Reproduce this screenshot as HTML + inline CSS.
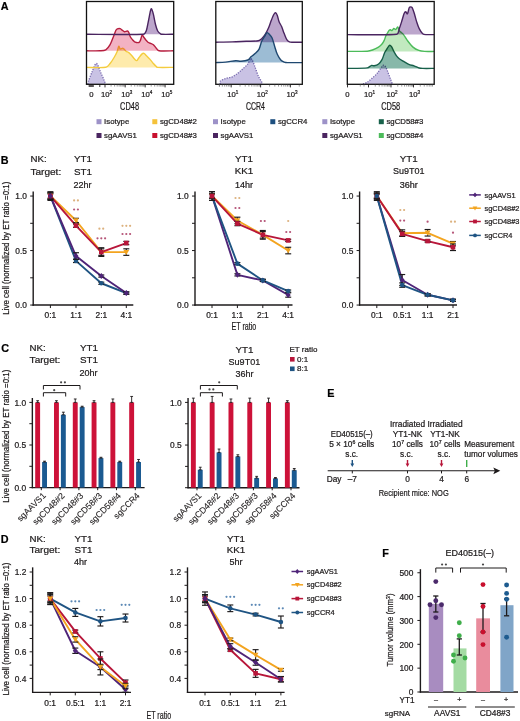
<!DOCTYPE html><html><head><meta charset="utf-8"><style>html,body{margin:0;padding:0;background:#fff;}svg{display:block;}</style></head><body>
<svg width="520" height="721" viewBox="0 0 520 721" font-family='"Liberation Sans", sans-serif'>
<style>text{stroke:#1d1a1b;stroke-width:0.22px;paint-order:stroke;}</style>
<rect width="520" height="721" fill="#fff"/>
<text x="0.80" y="10.20" font-size="10.8" text-anchor="start" fill="#000" font-weight="bold" >A</text>
<text x="0.80" y="164.30" font-size="10.8" text-anchor="start" fill="#000" font-weight="bold" >B</text>
<text x="1.20" y="352.20" font-size="10.8" text-anchor="start" fill="#000" font-weight="bold" >C</text>
<text x="0.80" y="542.60" font-size="10.8" text-anchor="start" fill="#000" font-weight="bold" >D</text>
<text x="327.30" y="397.00" font-size="10.8" text-anchor="start" fill="#000" font-weight="bold" >E</text>
<text x="382.20" y="556.60" font-size="10.8" text-anchor="start" fill="#000" font-weight="bold" >F</text>
<path d="M87.80,84.00 C87.92,83.53 88.18,82.11 88.50,81.20 C89.20,79.20 90.70,74.95 92.00,72.00 C93.28,69.09 94.88,63.50 96.30,63.50 C97.72,63.50 99.22,69.25 100.50,72.00 C101.73,74.64 103.17,78.00 104.00,80.00 C104.55,81.31 105.25,83.33 105.50,84.00 L105.50,84.00 L87.80,84.00 Z" fill="#c2b9e0" fill-opacity="0.88" stroke="none" style="mix-blend-mode:multiply"/>
<path d="M87.80,84.00 C87.92,83.53 88.18,82.11 88.50,81.20 C89.20,79.20 90.70,74.95 92.00,72.00 C93.28,69.09 94.88,63.50 96.30,63.50 C97.72,63.50 99.22,69.25 100.50,72.00 C101.73,74.64 103.17,78.00 104.00,80.00 C104.55,81.31 105.25,83.33 105.50,84.00" fill="none" stroke="#7567ad" stroke-width="1.3" stroke-dasharray="1.2,1.3" stroke-linejoin="round"/>
<path d="M86.50,67.40 C89.72,67.38 101.87,67.95 105.80,67.30 C107.69,66.99 108.87,64.97 110.10,63.50 C111.53,61.78 113.20,59.05 114.40,57.00 C115.49,55.13 116.57,53.00 117.30,51.20 C117.96,49.59 118.32,46.57 118.80,46.20 C119.28,45.83 119.48,48.65 120.20,49.00 C120.92,49.35 122.17,47.95 123.10,48.30 C124.07,48.67 125.05,50.48 126.00,51.20 C126.83,51.83 127.97,51.97 128.80,52.60 C129.75,53.32 130.79,54.48 131.70,55.50 C132.67,56.58 133.75,58.25 134.60,59.10 C135.23,59.73 136.08,60.83 136.80,60.60 C137.52,60.37 138.17,58.65 138.90,57.70 C139.73,56.62 140.95,54.82 141.80,54.10 C142.39,53.60 143.27,53.17 144.00,53.40 C144.73,53.63 145.48,54.79 146.20,55.50 C147.17,56.45 148.66,57.84 149.80,59.10 C151.00,60.43 152.32,62.25 153.40,63.50 C154.33,64.57 155.58,65.95 156.30,66.60 C156.70,66.96 157.16,67.38 157.70,67.40 C160.60,67.53 171.03,67.40 173.70,67.40 L173.70,67.40 L86.50,67.40 Z" fill="#fde38c" fill-opacity="0.72" stroke="none" style="mix-blend-mode:multiply"/>
<path d="M86.50,67.40 C89.72,67.38 101.87,67.95 105.80,67.30 C107.69,66.99 108.87,64.97 110.10,63.50 C111.53,61.78 113.20,59.05 114.40,57.00 C115.49,55.13 116.57,53.00 117.30,51.20 C117.96,49.59 118.32,46.57 118.80,46.20 C119.28,45.83 119.48,48.65 120.20,49.00 C120.92,49.35 122.17,47.95 123.10,48.30 C124.07,48.67 125.05,50.48 126.00,51.20 C126.83,51.83 127.97,51.97 128.80,52.60 C129.75,53.32 130.79,54.48 131.70,55.50 C132.67,56.58 133.75,58.25 134.60,59.10 C135.23,59.73 136.08,60.83 136.80,60.60 C137.52,60.37 138.17,58.65 138.90,57.70 C139.73,56.62 140.95,54.82 141.80,54.10 C142.39,53.60 143.27,53.17 144.00,53.40 C144.73,53.63 145.48,54.79 146.20,55.50 C147.17,56.45 148.66,57.84 149.80,59.10 C151.00,60.43 152.32,62.25 153.40,63.50 C154.33,64.57 155.58,65.95 156.30,66.60 C156.70,66.96 157.16,67.38 157.70,67.40 C160.60,67.53 171.03,67.40 173.70,67.40" fill="none" stroke="#f4cc3e" stroke-width="1.4"  stroke-linejoin="round"/>
<path d="M86.50,50.80 C88.75,50.80 96.78,50.97 100.00,50.80 C101.96,50.70 104.12,50.81 105.80,49.80 C107.48,48.78 109.00,46.63 110.10,44.70 C111.42,42.40 112.73,38.40 113.70,36.00 C114.46,34.11 115.30,31.50 115.90,30.30 C116.21,29.69 116.66,29.05 117.30,28.80 C118.02,28.52 119.35,28.35 120.20,28.60 C121.05,28.85 121.68,29.78 122.40,30.30 C123.08,30.79 123.67,31.58 124.50,31.70 C125.33,31.82 126.68,30.87 127.40,31.00 C128.07,31.13 128.49,31.89 128.80,32.50 C129.28,33.47 129.68,35.60 130.30,36.80 C130.85,37.88 131.78,38.87 132.50,39.70 C133.15,40.45 133.69,41.40 134.60,41.80 C135.67,42.27 137.93,42.73 138.90,42.50 C139.74,42.30 140.05,41.19 140.40,40.40 C140.93,39.20 141.50,35.78 142.10,35.30 C142.70,34.82 143.39,36.74 144.00,37.50 C144.68,38.35 145.48,39.57 146.20,40.40 C146.85,41.15 147.58,42.02 148.30,42.50 C148.95,42.94 149.78,42.99 150.50,43.30 C151.35,43.67 152.59,44.00 153.40,44.70 C154.37,45.53 155.35,47.28 156.30,48.30 C157.15,49.21 157.86,50.62 159.10,50.80 C162.00,51.22 171.27,50.80 173.70,50.80 L173.70,50.80 L86.50,50.80 Z" fill="#ee8ea6" fill-opacity="0.68" stroke="none" style="mix-blend-mode:multiply"/>
<path d="M86.50,50.80 C88.75,50.80 96.78,50.97 100.00,50.80 C101.96,50.70 104.12,50.81 105.80,49.80 C107.48,48.78 109.00,46.63 110.10,44.70 C111.42,42.40 112.73,38.40 113.70,36.00 C114.46,34.11 115.30,31.50 115.90,30.30 C116.21,29.69 116.66,29.05 117.30,28.80 C118.02,28.52 119.35,28.35 120.20,28.60 C121.05,28.85 121.68,29.78 122.40,30.30 C123.08,30.79 123.67,31.58 124.50,31.70 C125.33,31.82 126.68,30.87 127.40,31.00 C128.07,31.13 128.49,31.89 128.80,32.50 C129.28,33.47 129.68,35.60 130.30,36.80 C130.85,37.88 131.78,38.87 132.50,39.70 C133.15,40.45 133.69,41.40 134.60,41.80 C135.67,42.27 137.93,42.73 138.90,42.50 C139.74,42.30 140.05,41.19 140.40,40.40 C140.93,39.20 141.50,35.78 142.10,35.30 C142.70,34.82 143.39,36.74 144.00,37.50 C144.68,38.35 145.48,39.57 146.20,40.40 C146.85,41.15 147.58,42.02 148.30,42.50 C148.95,42.94 149.78,42.99 150.50,43.30 C151.35,43.67 152.59,44.00 153.40,44.70 C154.37,45.53 155.35,47.28 156.30,48.30 C157.15,49.21 157.86,50.62 159.10,50.80 C162.00,51.22 171.27,50.80 173.70,50.80" fill="none" stroke="#b51d3e" stroke-width="1.4"  stroke-linejoin="round"/>
<path d="M86.50,34.30 C95.97,34.30 133.35,34.85 143.30,34.30 C144.76,34.22 145.66,32.36 146.20,31.00 C147.03,28.88 147.63,24.74 148.30,21.60 C149.02,18.23 149.95,12.92 150.50,10.80 C150.68,10.09 151.14,8.33 151.60,8.90 C152.08,9.50 152.93,12.53 153.40,14.40 C154.05,17.00 154.78,21.73 155.50,24.50 C156.07,26.71 156.85,29.43 157.70,31.00 C158.35,32.20 159.88,33.35 160.60,33.90 C160.99,34.20 161.51,34.29 162.00,34.30 C164.18,34.37 171.75,34.30 173.70,34.30 L173.70,34.30 L86.50,34.30 Z" fill="#ab90bf" fill-opacity="0.8" stroke="none" style="mix-blend-mode:multiply"/>
<path d="M86.50,34.30 C95.97,34.30 133.35,34.85 143.30,34.30 C144.76,34.22 145.66,32.36 146.20,31.00 C147.03,28.88 147.63,24.74 148.30,21.60 C149.02,18.23 149.95,12.92 150.50,10.80 C150.68,10.09 151.14,8.33 151.60,8.90 C152.08,9.50 152.93,12.53 153.40,14.40 C154.05,17.00 154.78,21.73 155.50,24.50 C156.07,26.71 156.85,29.43 157.70,31.00 C158.35,32.20 159.88,33.35 160.60,33.90 C160.99,34.20 161.51,34.29 162.00,34.30 C164.18,34.37 171.75,34.30 173.70,34.30" fill="none" stroke="#4a2560" stroke-width="1.4"  stroke-linejoin="round"/>
<rect x="86.5" y="1.5" width="87.19999999999999" height="82.8" fill="none" stroke="#111" stroke-width="1.3"/>
<path d="M220.20,84.00 C220.20,83.53 219.55,81.87 220.20,81.20 C221.07,80.30 223.58,79.26 225.40,78.60 C227.42,77.87 230.28,77.67 232.30,76.80 C234.20,75.98 235.84,74.64 237.50,73.40 C239.23,72.10 241.03,70.54 242.70,69.00 C244.43,67.40 246.60,65.52 247.90,63.80 C249.05,62.28 249.78,59.33 250.50,58.70 C251.03,58.23 251.85,59.38 252.20,60.00 C252.92,61.28 253.98,64.25 254.80,66.40 C255.82,69.07 257.15,73.40 258.30,76.00 C259.23,78.10 261.08,80.67 261.70,82.00 C261.98,82.61 261.95,83.67 262.00,84.00 L262.00,84.00 L220.20,84.00 Z" fill="#c2b9e0" fill-opacity="0.88" stroke="none" style="mix-blend-mode:multiply"/>
<path d="M220.20,84.00 C220.20,83.53 219.55,81.87 220.20,81.20 C221.07,80.30 223.58,79.26 225.40,78.60 C227.42,77.87 230.28,77.67 232.30,76.80 C234.20,75.98 235.84,74.64 237.50,73.40 C239.23,72.10 241.03,70.54 242.70,69.00 C244.43,67.40 246.60,65.52 247.90,63.80 C249.05,62.28 249.78,59.33 250.50,58.70 C251.03,58.23 251.85,59.38 252.20,60.00 C252.92,61.28 253.98,64.25 254.80,66.40 C255.82,69.07 257.15,73.40 258.30,76.00 C259.23,78.10 261.08,80.67 261.70,82.00 C261.98,82.61 261.95,83.67 262.00,84.00" fill="none" stroke="#7567ad" stroke-width="1.3" stroke-dasharray="1.2,1.3" stroke-linejoin="round"/>
<path d="M215.80,42.20 C218.55,42.15 227.23,42.05 232.30,41.90 C236.94,41.76 241.87,41.48 246.20,41.30 C250.23,41.13 255.72,41.23 258.30,40.80 C259.61,40.58 260.72,39.61 261.70,38.70 C262.85,37.63 264.22,35.97 265.20,34.40 C266.37,32.53 267.70,29.80 268.70,27.50 C269.68,25.26 270.35,22.77 271.20,20.60 C272.01,18.54 273.07,15.80 273.80,14.50 C274.21,13.78 275.02,12.65 275.60,12.80 C276.18,12.95 276.92,14.44 277.30,15.40 C277.87,16.83 278.28,19.53 279.00,21.40 C279.69,23.21 280.84,24.82 281.60,26.60 C282.47,28.63 283.33,31.43 284.20,33.60 C285.01,35.62 285.93,38.22 286.80,39.60 C287.41,40.58 288.38,41.47 289.40,41.90 C290.42,42.33 291.73,42.17 292.90,42.20 C295.05,42.25 300.73,42.20 302.30,42.20 L302.30,42.20 L215.80,42.20 Z" fill="#ab90bf" fill-opacity="0.8" stroke="none" style="mix-blend-mode:multiply"/>
<path d="M215.80,42.20 C218.55,42.15 227.23,42.05 232.30,41.90 C236.94,41.76 241.87,41.48 246.20,41.30 C250.23,41.13 255.72,41.23 258.30,40.80 C259.61,40.58 260.72,39.61 261.70,38.70 C262.85,37.63 264.22,35.97 265.20,34.40 C266.37,32.53 267.70,29.80 268.70,27.50 C269.68,25.26 270.35,22.77 271.20,20.60 C272.01,18.54 273.07,15.80 273.80,14.50 C274.21,13.78 275.02,12.65 275.60,12.80 C276.18,12.95 276.92,14.44 277.30,15.40 C277.87,16.83 278.28,19.53 279.00,21.40 C279.69,23.21 280.84,24.82 281.60,26.60 C282.47,28.63 283.33,31.43 284.20,33.60 C285.01,35.62 285.93,38.22 286.80,39.60 C287.41,40.58 288.38,41.47 289.40,41.90 C290.42,42.33 291.73,42.17 292.90,42.20 C295.05,42.25 300.73,42.20 302.30,42.20" fill="none" stroke="#4a2560" stroke-width="1.4"  stroke-linejoin="round"/>
<path d="M215.80,62.60 C217.40,62.52 222.21,62.40 225.40,62.10 C228.73,61.78 233.20,60.85 235.80,60.70 C237.54,60.60 239.26,61.30 241.00,61.20 C243.02,61.08 246.18,60.77 247.90,60.00 C249.36,59.35 250.10,57.66 251.30,56.60 C252.60,55.45 254.40,54.35 255.70,53.10 C256.96,51.89 258.31,50.66 259.10,49.10 C260.10,47.13 260.83,43.32 261.70,41.30 C262.36,39.76 263.43,38.43 264.30,37.00 C265.17,35.57 266.03,33.13 266.90,32.70 C267.77,32.27 268.77,33.67 269.50,34.40 C270.37,35.27 271.53,36.56 272.10,37.90 C272.97,39.92 273.83,43.77 274.70,46.50 C275.53,49.11 276.28,52.05 277.30,54.30 C278.22,56.33 279.65,58.70 280.80,60.00 C281.68,61.00 283.05,61.67 284.20,62.10 C285.30,62.52 286.52,62.57 287.70,62.60 C290.72,62.68 299.87,62.60 302.30,62.60 L302.30,62.60 L215.80,62.60 Z" fill="#7ba6c6" fill-opacity="0.75" stroke="none" style="mix-blend-mode:multiply"/>
<path d="M215.80,62.60 C217.40,62.52 222.21,62.40 225.40,62.10 C228.73,61.78 233.20,60.85 235.80,60.70 C237.54,60.60 239.26,61.30 241.00,61.20 C243.02,61.08 246.18,60.77 247.90,60.00 C249.36,59.35 250.10,57.66 251.30,56.60 C252.60,55.45 254.40,54.35 255.70,53.10 C256.96,51.89 258.31,50.66 259.10,49.10 C260.10,47.13 260.83,43.32 261.70,41.30 C262.36,39.76 263.43,38.43 264.30,37.00 C265.17,35.57 266.03,33.13 266.90,32.70 C267.77,32.27 268.77,33.67 269.50,34.40 C270.37,35.27 271.53,36.56 272.10,37.90 C272.97,39.92 273.83,43.77 274.70,46.50 C275.53,49.11 276.28,52.05 277.30,54.30 C278.22,56.33 279.65,58.70 280.80,60.00 C281.68,61.00 283.05,61.67 284.20,62.10 C285.30,62.52 286.52,62.57 287.70,62.60 C290.72,62.68 299.87,62.60 302.30,62.60" fill="none" stroke="#1f4870" stroke-width="1.4"  stroke-linejoin="round"/>
<rect x="215.8" y="1.5" width="86.5" height="82.8" fill="none" stroke="#111" stroke-width="1.3"/>
<path d="M363.00,84.00 C363.72,83.70 365.99,83.04 367.30,82.20 C368.88,81.18 370.84,79.42 372.50,77.90 C374.23,76.32 376.13,74.58 377.70,72.70 C379.43,70.62 381.60,66.42 382.90,65.40 C383.65,64.81 384.95,65.82 385.50,66.60 C386.37,67.82 387.28,70.65 388.10,72.70 C388.97,74.87 389.98,77.72 390.70,79.60 C391.26,81.07 392.12,83.27 392.40,84.00 L392.40,84.00 L363.00,84.00 Z" fill="#c2b9e0" fill-opacity="0.88" stroke="none" style="mix-blend-mode:multiply"/>
<path d="M363.00,84.00 C363.72,83.70 365.99,83.04 367.30,82.20 C368.88,81.18 370.84,79.42 372.50,77.90 C374.23,76.32 376.13,74.58 377.70,72.70 C379.43,70.62 381.60,66.42 382.90,65.40 C383.65,64.81 384.95,65.82 385.50,66.60 C386.37,67.82 387.28,70.65 388.10,72.70 C388.97,74.87 389.98,77.72 390.70,79.60 C391.26,81.07 392.12,83.27 392.40,84.00" fill="none" stroke="#7567ad" stroke-width="1.3" stroke-dasharray="1.2,1.3" stroke-linejoin="round"/>
<path d="M347.30,68.40 C350.63,68.32 363.25,68.40 367.30,67.90 C368.95,67.70 370.45,65.75 371.60,65.40 C372.44,65.14 373.34,65.97 374.20,65.80 C375.37,65.57 377.35,64.98 378.60,64.00 C379.90,62.98 381.14,61.31 382.00,59.70 C383.00,57.83 383.73,54.67 384.60,52.80 C385.31,51.28 386.38,49.75 387.20,48.50 C387.92,47.40 388.78,45.60 389.50,45.30 C390.22,45.00 391.03,46.03 391.50,46.70 C392.27,47.80 393.23,50.32 394.10,51.90 C394.90,53.37 395.83,55.05 396.70,56.20 C397.44,57.18 398.32,58.07 399.30,58.80 C400.47,59.67 402.23,60.53 403.70,61.40 C405.28,62.33 407.08,63.67 408.80,64.40 C410.45,65.11 412.30,65.21 414.00,65.80 C415.73,66.40 417.75,67.57 419.20,68.00 C420.33,68.34 421.53,68.37 422.70,68.40 C425.20,68.47 432.28,68.40 434.20,68.40 L434.20,68.40 L347.30,68.40 Z" fill="#5fa08c" fill-opacity="0.75" stroke="none" style="mix-blend-mode:multiply"/>
<path d="M347.30,68.40 C350.63,68.32 363.25,68.40 367.30,67.90 C368.95,67.70 370.45,65.75 371.60,65.40 C372.44,65.14 373.34,65.97 374.20,65.80 C375.37,65.57 377.35,64.98 378.60,64.00 C379.90,62.98 381.14,61.31 382.00,59.70 C383.00,57.83 383.73,54.67 384.60,52.80 C385.31,51.28 386.38,49.75 387.20,48.50 C387.92,47.40 388.78,45.60 389.50,45.30 C390.22,45.00 391.03,46.03 391.50,46.70 C392.27,47.80 393.23,50.32 394.10,51.90 C394.90,53.37 395.83,55.05 396.70,56.20 C397.44,57.18 398.32,58.07 399.30,58.80 C400.47,59.67 402.23,60.53 403.70,61.40 C405.28,62.33 407.08,63.67 408.80,64.40 C410.45,65.11 412.30,65.21 414.00,65.80 C415.73,66.40 417.75,67.57 419.20,68.00 C420.33,68.34 421.53,68.37 422.70,68.40 C425.20,68.47 432.28,68.40 434.20,68.40" fill="none" stroke="#17604a" stroke-width="1.4"  stroke-linejoin="round"/>
<path d="M347.30,51.40 C350.63,51.37 363.10,51.43 367.30,51.20 C369.08,51.10 370.83,50.61 372.50,50.00 C374.37,49.32 376.92,48.10 378.50,47.10 C379.82,46.27 381.05,45.12 382.00,44.00 C382.91,42.93 383.60,41.67 384.20,40.40 C384.87,38.98 385.45,36.73 386.00,35.50 C386.40,34.61 387.00,33.83 387.50,33.00 C388.00,32.17 388.50,31.03 389.00,30.50 C389.38,30.10 390.00,29.78 390.50,29.80 C391.00,29.82 391.47,30.81 392.00,30.60 C392.55,30.38 393.17,28.68 393.80,28.50 C394.43,28.32 395.15,29.75 395.80,29.50 C396.45,29.25 397.07,26.72 397.70,27.00 C398.33,27.28 398.97,30.25 399.60,31.20 C400.05,31.87 400.89,32.17 401.50,32.70 C402.15,33.27 402.95,33.87 403.50,34.60 C404.47,35.88 405.90,38.56 407.30,40.40 C408.88,42.48 411.08,45.43 413.00,47.10 C414.68,48.56 416.87,49.68 418.80,50.40 C420.64,51.08 422.64,51.27 424.60,51.40 C427.17,51.57 432.60,51.40 434.20,51.40 L434.20,51.40 L347.30,51.40 Z" fill="#a9e0a6" fill-opacity="0.72" stroke="none" style="mix-blend-mode:multiply"/>
<path d="M347.30,51.40 C350.63,51.37 363.10,51.43 367.30,51.20 C369.08,51.10 370.83,50.61 372.50,50.00 C374.37,49.32 376.92,48.10 378.50,47.10 C379.82,46.27 381.05,45.12 382.00,44.00 C382.91,42.93 383.60,41.67 384.20,40.40 C384.87,38.98 385.45,36.73 386.00,35.50 C386.40,34.61 387.00,33.83 387.50,33.00 C388.00,32.17 388.50,31.03 389.00,30.50 C389.38,30.10 390.00,29.78 390.50,29.80 C391.00,29.82 391.47,30.81 392.00,30.60 C392.55,30.38 393.17,28.68 393.80,28.50 C394.43,28.32 395.15,29.75 395.80,29.50 C396.45,29.25 397.07,26.72 397.70,27.00 C398.33,27.28 398.97,30.25 399.60,31.20 C400.05,31.87 400.89,32.17 401.50,32.70 C402.15,33.27 402.95,33.87 403.50,34.60 C404.47,35.88 405.90,38.56 407.30,40.40 C408.88,42.48 411.08,45.43 413.00,47.10 C414.68,48.56 416.87,49.68 418.80,50.40 C420.64,51.08 422.64,51.27 424.60,51.40 C427.17,51.57 432.60,51.40 434.20,51.40" fill="none" stroke="#4cbb5a" stroke-width="1.4"  stroke-linejoin="round"/>
<path d="M347.30,34.60 C355.53,34.55 388.03,35.30 396.70,34.30 C398.77,34.06 398.55,30.55 399.30,28.60 C400.17,26.35 401.12,23.27 401.90,20.80 C402.64,18.48 403.37,15.30 404.00,13.80 C404.34,12.99 405.12,11.80 405.70,11.80 C406.28,11.80 406.92,14.47 407.50,13.80 C408.08,13.13 408.68,8.95 409.20,7.80 C409.43,7.29 410.08,6.90 410.60,6.90 C411.12,6.90 411.99,7.24 412.30,7.80 C412.93,8.95 413.77,11.78 414.40,13.80 C415.12,16.10 415.80,19.13 416.60,21.60 C417.37,23.97 418.18,26.58 419.20,28.60 C420.13,30.44 421.53,32.70 422.70,33.70 C423.61,34.48 425.00,34.51 426.20,34.60 C428.12,34.75 432.87,34.60 434.20,34.60 L434.20,34.60 L347.30,34.60 Z" fill="#ab90bf" fill-opacity="0.8" stroke="none" style="mix-blend-mode:multiply"/>
<path d="M347.30,34.60 C355.53,34.55 388.03,35.30 396.70,34.30 C398.77,34.06 398.55,30.55 399.30,28.60 C400.17,26.35 401.12,23.27 401.90,20.80 C402.64,18.48 403.37,15.30 404.00,13.80 C404.34,12.99 405.12,11.80 405.70,11.80 C406.28,11.80 406.92,14.47 407.50,13.80 C408.08,13.13 408.68,8.95 409.20,7.80 C409.43,7.29 410.08,6.90 410.60,6.90 C411.12,6.90 411.99,7.24 412.30,7.80 C412.93,8.95 413.77,11.78 414.40,13.80 C415.12,16.10 415.80,19.13 416.60,21.60 C417.37,23.97 418.18,26.58 419.20,28.60 C420.13,30.44 421.53,32.70 422.70,33.70 C423.61,34.48 425.00,34.51 426.20,34.60 C428.12,34.75 432.87,34.60 434.20,34.60" fill="none" stroke="#4a2560" stroke-width="1.4"  stroke-linejoin="round"/>
<rect x="347.3" y="1.5" width="86.89999999999998" height="82.8" fill="none" stroke="#111" stroke-width="1.3"/>
<line x1="89.20" y1="84.60" x2="89.20" y2="87.00" stroke="#1d1a1b" stroke-width="0.9" />
<line x1="90.20" y1="84.60" x2="90.20" y2="87.00" stroke="#1d1a1b" stroke-width="0.9" />
<line x1="91.20" y1="84.60" x2="91.20" y2="87.00" stroke="#1d1a1b" stroke-width="0.9" />
<line x1="92.20" y1="84.60" x2="92.20" y2="87.00" stroke="#1d1a1b" stroke-width="0.9" />
<line x1="93.20" y1="84.60" x2="93.20" y2="87.00" stroke="#1d1a1b" stroke-width="0.9" />
<line x1="99.80" y1="84.60" x2="99.80" y2="87.00" stroke="#1d1a1b" stroke-width="0.9" />
<line x1="105.00" y1="84.60" x2="105.00" y2="87.40" stroke="#1d1a1b" stroke-width="0.9" />
<line x1="125.20" y1="84.60" x2="125.20" y2="87.40" stroke="#1d1a1b" stroke-width="0.9" />
<line x1="145.20" y1="84.60" x2="145.20" y2="87.40" stroke="#1d1a1b" stroke-width="0.9" />
<line x1="165.10" y1="84.60" x2="165.10" y2="87.40" stroke="#1d1a1b" stroke-width="0.9" />
<line x1="111.08" y1="84.60" x2="111.08" y2="86.60" stroke="#555" stroke-width="0.6" />
<line x1="114.64" y1="84.60" x2="114.64" y2="86.60" stroke="#555" stroke-width="0.6" />
<line x1="117.16" y1="84.60" x2="117.16" y2="86.60" stroke="#555" stroke-width="0.6" />
<line x1="119.12" y1="84.60" x2="119.12" y2="86.60" stroke="#555" stroke-width="0.6" />
<line x1="120.72" y1="84.60" x2="120.72" y2="86.60" stroke="#555" stroke-width="0.6" />
<line x1="122.07" y1="84.60" x2="122.07" y2="86.60" stroke="#555" stroke-width="0.6" />
<line x1="123.24" y1="84.60" x2="123.24" y2="86.60" stroke="#555" stroke-width="0.6" />
<line x1="124.28" y1="84.60" x2="124.28" y2="86.60" stroke="#555" stroke-width="0.6" />
<line x1="131.22" y1="84.60" x2="131.22" y2="86.60" stroke="#555" stroke-width="0.6" />
<line x1="134.74" y1="84.60" x2="134.74" y2="86.60" stroke="#555" stroke-width="0.6" />
<line x1="137.24" y1="84.60" x2="137.24" y2="86.60" stroke="#555" stroke-width="0.6" />
<line x1="139.18" y1="84.60" x2="139.18" y2="86.60" stroke="#555" stroke-width="0.6" />
<line x1="140.76" y1="84.60" x2="140.76" y2="86.60" stroke="#555" stroke-width="0.6" />
<line x1="142.10" y1="84.60" x2="142.10" y2="86.60" stroke="#555" stroke-width="0.6" />
<line x1="143.26" y1="84.60" x2="143.26" y2="86.60" stroke="#555" stroke-width="0.6" />
<line x1="144.28" y1="84.60" x2="144.28" y2="86.60" stroke="#555" stroke-width="0.6" />
<line x1="151.19" y1="84.60" x2="151.19" y2="86.60" stroke="#555" stroke-width="0.6" />
<line x1="154.69" y1="84.60" x2="154.69" y2="86.60" stroke="#555" stroke-width="0.6" />
<line x1="157.18" y1="84.60" x2="157.18" y2="86.60" stroke="#555" stroke-width="0.6" />
<line x1="159.11" y1="84.60" x2="159.11" y2="86.60" stroke="#555" stroke-width="0.6" />
<line x1="160.69" y1="84.60" x2="160.69" y2="86.60" stroke="#555" stroke-width="0.6" />
<line x1="162.02" y1="84.60" x2="162.02" y2="86.60" stroke="#555" stroke-width="0.6" />
<line x1="163.17" y1="84.60" x2="163.17" y2="86.60" stroke="#555" stroke-width="0.6" />
<line x1="164.19" y1="84.60" x2="164.19" y2="86.60" stroke="#555" stroke-width="0.6" />
<text x="91.30" y="96.80" font-size="7.7" text-anchor="middle" fill="#1d1a1b" font-weight="normal" >0</text>
<text x="106.60" y="96.80" font-size="7.7" text-anchor="middle" fill="#1d1a1b">10<tspan font-size="4.62" dy="-3.3">2</tspan></text>
<text x="126.80" y="96.80" font-size="7.7" text-anchor="middle" fill="#1d1a1b">10<tspan font-size="4.62" dy="-3.3">3</tspan></text>
<text x="146.80" y="96.80" font-size="7.7" text-anchor="middle" fill="#1d1a1b">10<tspan font-size="4.62" dy="-3.3">4</tspan></text>
<text x="166.70" y="96.80" font-size="7.7" text-anchor="middle" fill="#1d1a1b">10<tspan font-size="4.62" dy="-3.3">5</tspan></text>
<line x1="219.30" y1="84.60" x2="219.30" y2="86.60" stroke="#777" stroke-width="0.7" />
<line x1="219.50" y1="84.60" x2="219.50" y2="86.60" stroke="#555" stroke-width="0.6" />
<line x1="222.35" y1="84.60" x2="222.35" y2="86.60" stroke="#555" stroke-width="0.6" />
<line x1="224.68" y1="84.60" x2="224.68" y2="86.60" stroke="#555" stroke-width="0.6" />
<line x1="226.65" y1="84.60" x2="226.65" y2="86.60" stroke="#555" stroke-width="0.6" />
<line x1="228.35" y1="84.60" x2="228.35" y2="86.60" stroke="#555" stroke-width="0.6" />
<line x1="229.85" y1="84.60" x2="229.85" y2="86.60" stroke="#555" stroke-width="0.6" />
<line x1="231.20" y1="84.60" x2="231.20" y2="87.40" stroke="#1d1a1b" stroke-width="0.9" />
<line x1="260.60" y1="84.60" x2="260.60" y2="87.40" stroke="#1d1a1b" stroke-width="0.9" />
<line x1="290.40" y1="84.60" x2="290.40" y2="87.40" stroke="#1d1a1b" stroke-width="0.9" />
<line x1="240.05" y1="84.60" x2="240.05" y2="86.60" stroke="#555" stroke-width="0.6" />
<line x1="245.23" y1="84.60" x2="245.23" y2="86.60" stroke="#555" stroke-width="0.6" />
<line x1="248.90" y1="84.60" x2="248.90" y2="86.60" stroke="#555" stroke-width="0.6" />
<line x1="251.75" y1="84.60" x2="251.75" y2="86.60" stroke="#555" stroke-width="0.6" />
<line x1="254.08" y1="84.60" x2="254.08" y2="86.60" stroke="#555" stroke-width="0.6" />
<line x1="256.05" y1="84.60" x2="256.05" y2="86.60" stroke="#555" stroke-width="0.6" />
<line x1="257.75" y1="84.60" x2="257.75" y2="86.60" stroke="#555" stroke-width="0.6" />
<line x1="259.25" y1="84.60" x2="259.25" y2="86.60" stroke="#555" stroke-width="0.6" />
<line x1="269.57" y1="84.60" x2="269.57" y2="86.60" stroke="#555" stroke-width="0.6" />
<line x1="274.82" y1="84.60" x2="274.82" y2="86.60" stroke="#555" stroke-width="0.6" />
<line x1="278.54" y1="84.60" x2="278.54" y2="86.60" stroke="#555" stroke-width="0.6" />
<line x1="281.43" y1="84.60" x2="281.43" y2="86.60" stroke="#555" stroke-width="0.6" />
<line x1="283.79" y1="84.60" x2="283.79" y2="86.60" stroke="#555" stroke-width="0.6" />
<line x1="285.78" y1="84.60" x2="285.78" y2="86.60" stroke="#555" stroke-width="0.6" />
<line x1="287.51" y1="84.60" x2="287.51" y2="86.60" stroke="#555" stroke-width="0.6" />
<line x1="289.04" y1="84.60" x2="289.04" y2="86.60" stroke="#555" stroke-width="0.6" />
<line x1="299.25" y1="84.60" x2="299.25" y2="86.60" stroke="#555" stroke-width="0.6" />
<text x="232.80" y="96.80" font-size="7.7" text-anchor="middle" fill="#1d1a1b">10<tspan font-size="4.62" dy="-3.3">1</tspan></text>
<text x="262.20" y="96.80" font-size="7.7" text-anchor="middle" fill="#1d1a1b">10<tspan font-size="4.62" dy="-3.3">2</tspan></text>
<text x="292.00" y="96.80" font-size="7.7" text-anchor="middle" fill="#1d1a1b">10<tspan font-size="4.62" dy="-3.3">3</tspan></text>
<line x1="347.50" y1="84.60" x2="347.50" y2="87.40" stroke="#1d1a1b" stroke-width="0.9" />
<line x1="360.30" y1="84.60" x2="360.30" y2="86.60" stroke="#777" stroke-width="0.7" />
<line x1="364.00" y1="84.60" x2="364.00" y2="86.60" stroke="#777" stroke-width="0.7" />
<line x1="368.50" y1="84.60" x2="368.50" y2="87.40" stroke="#1d1a1b" stroke-width="0.9" />
<line x1="391.00" y1="84.60" x2="391.00" y2="87.40" stroke="#1d1a1b" stroke-width="0.9" />
<line x1="413.50" y1="84.60" x2="413.50" y2="87.40" stroke="#1d1a1b" stroke-width="0.9" />
<line x1="375.27" y1="84.60" x2="375.27" y2="86.60" stroke="#555" stroke-width="0.6" />
<line x1="379.24" y1="84.60" x2="379.24" y2="86.60" stroke="#555" stroke-width="0.6" />
<line x1="382.05" y1="84.60" x2="382.05" y2="86.60" stroke="#555" stroke-width="0.6" />
<line x1="384.23" y1="84.60" x2="384.23" y2="86.60" stroke="#555" stroke-width="0.6" />
<line x1="386.01" y1="84.60" x2="386.01" y2="86.60" stroke="#555" stroke-width="0.6" />
<line x1="387.51" y1="84.60" x2="387.51" y2="86.60" stroke="#555" stroke-width="0.6" />
<line x1="388.82" y1="84.60" x2="388.82" y2="86.60" stroke="#555" stroke-width="0.6" />
<line x1="389.97" y1="84.60" x2="389.97" y2="86.60" stroke="#555" stroke-width="0.6" />
<line x1="397.77" y1="84.60" x2="397.77" y2="86.60" stroke="#555" stroke-width="0.6" />
<line x1="401.74" y1="84.60" x2="401.74" y2="86.60" stroke="#555" stroke-width="0.6" />
<line x1="404.55" y1="84.60" x2="404.55" y2="86.60" stroke="#555" stroke-width="0.6" />
<line x1="406.73" y1="84.60" x2="406.73" y2="86.60" stroke="#555" stroke-width="0.6" />
<line x1="408.51" y1="84.60" x2="408.51" y2="86.60" stroke="#555" stroke-width="0.6" />
<line x1="410.01" y1="84.60" x2="410.01" y2="86.60" stroke="#555" stroke-width="0.6" />
<line x1="411.32" y1="84.60" x2="411.32" y2="86.60" stroke="#555" stroke-width="0.6" />
<line x1="412.47" y1="84.60" x2="412.47" y2="86.60" stroke="#555" stroke-width="0.6" />
<line x1="420.27" y1="84.60" x2="420.27" y2="86.60" stroke="#555" stroke-width="0.6" />
<line x1="424.24" y1="84.60" x2="424.24" y2="86.60" stroke="#555" stroke-width="0.6" />
<line x1="427.05" y1="84.60" x2="427.05" y2="86.60" stroke="#555" stroke-width="0.6" />
<line x1="429.23" y1="84.60" x2="429.23" y2="86.60" stroke="#555" stroke-width="0.6" />
<line x1="431.01" y1="84.60" x2="431.01" y2="86.60" stroke="#555" stroke-width="0.6" />
<line x1="432.51" y1="84.60" x2="432.51" y2="86.60" stroke="#555" stroke-width="0.6" />
<text x="347.30" y="96.80" font-size="7.7" text-anchor="middle" fill="#1d1a1b" font-weight="normal" >0</text>
<text x="369.50" y="96.80" font-size="7.7" text-anchor="middle" fill="#1d1a1b">10<tspan font-size="4.62" dy="-3.3">1</tspan></text>
<text x="392.00" y="96.80" font-size="7.7" text-anchor="middle" fill="#1d1a1b">10<tspan font-size="4.62" dy="-3.3">2</tspan></text>
<text x="414.50" y="96.80" font-size="7.7" text-anchor="middle" fill="#1d1a1b">10<tspan font-size="4.62" dy="-3.3">3</tspan></text>
<text x="129.60" y="110.40" font-size="10.2" text-anchor="middle" fill="#1d1a1b" textLength="19" lengthAdjust="spacingAndGlyphs" >CD48</text>
<text x="255.40" y="110.20" font-size="10.2" text-anchor="middle" fill="#1d1a1b" textLength="19" lengthAdjust="spacingAndGlyphs" >CCR4</text>
<text x="390.70" y="110.20" font-size="10.2" text-anchor="middle" fill="#1d1a1b" textLength="19" lengthAdjust="spacingAndGlyphs" >CD58</text>
<rect x="96.50" y="119.20" width="5" height="5" fill="#9d92c8"/>
<text x="104.10" y="124.40" font-size="7.8" text-anchor="start" fill="#1d1a1b" font-weight="normal" >Isotype</text>
<rect x="96.50" y="133.00" width="5" height="5" fill="#4a2560"/>
<text x="104.10" y="138.20" font-size="7.8" text-anchor="start" fill="#1d1a1b" font-weight="normal" >sgAAVS1</text>
<rect x="152.30" y="119.20" width="5" height="5" fill="#f5c23a"/>
<text x="159.90" y="124.40" font-size="7.8" text-anchor="start" fill="#1d1a1b" font-weight="normal" >sgCD48#2</text>
<rect x="152.30" y="133.00" width="5" height="5" fill="#c8102e"/>
<text x="159.90" y="138.20" font-size="7.8" text-anchor="start" fill="#1d1a1b" font-weight="normal" >sgCD48#3</text>
<rect x="213.00" y="119.20" width="5" height="5" fill="#9d92c8"/>
<text x="220.60" y="124.40" font-size="7.8" text-anchor="start" fill="#1d1a1b" font-weight="normal" >Isotype</text>
<rect x="213.00" y="133.00" width="5" height="5" fill="#4a2560"/>
<text x="220.60" y="138.20" font-size="7.8" text-anchor="start" fill="#1d1a1b" font-weight="normal" >sgAAVS1</text>
<rect x="270.30" y="119.20" width="5" height="5" fill="#1d4f7f"/>
<text x="277.90" y="124.40" font-size="7.8" text-anchor="start" fill="#1d1a1b" font-weight="normal" >sgCCR4</text>
<rect x="322.30" y="119.20" width="5" height="5" fill="#9d92c8"/>
<text x="329.90" y="124.40" font-size="7.8" text-anchor="start" fill="#1d1a1b" font-weight="normal" >Isotype</text>
<rect x="322.30" y="133.00" width="5" height="5" fill="#4a2560"/>
<text x="329.90" y="138.20" font-size="7.8" text-anchor="start" fill="#1d1a1b" font-weight="normal" >sgAAVS1</text>
<rect x="378.80" y="119.20" width="5" height="5" fill="#17614a"/>
<text x="386.40" y="124.40" font-size="7.8" text-anchor="start" fill="#1d1a1b" font-weight="normal" >sgCD58#3</text>
<rect x="378.80" y="133.00" width="5" height="5" fill="#4cbb5a"/>
<text x="386.40" y="138.20" font-size="7.8" text-anchor="start" fill="#1d1a1b" font-weight="normal" >sgCD58#4</text>
<text x="30.40" y="162.30" font-size="9.8" text-anchor="start" fill="#1d1a1b" textLength="16.2" lengthAdjust="spacingAndGlyphs" >NK:</text>
<text x="30.40" y="174.60" font-size="9.8" text-anchor="start" fill="#1d1a1b" textLength="30.8" lengthAdjust="spacingAndGlyphs" >Target:</text>
<text x="74.00" y="162.30" font-size="9.8" text-anchor="start" fill="#1d1a1b" font-weight="normal" >YT1</text>
<text x="74.00" y="174.60" font-size="9.8" text-anchor="start" fill="#1d1a1b" font-weight="normal" >ST1</text>
<text x="73.40" y="188.40" font-size="9.0" text-anchor="start" fill="#1d1a1b" font-weight="normal" >22hr</text>
<text x="244.00" y="162.40" font-size="9.8" text-anchor="middle" fill="#1d1a1b" font-weight="normal" >YT1</text>
<text x="244.00" y="174.00" font-size="9.8" text-anchor="middle" fill="#1d1a1b" font-weight="normal" >KK1</text>
<text x="244.00" y="188.40" font-size="9.0" text-anchor="middle" fill="#1d1a1b" font-weight="normal" >14hr</text>
<text x="408.70" y="162.40" font-size="9.8" text-anchor="middle" fill="#1d1a1b" font-weight="normal" >YT1</text>
<text x="408.70" y="174.20" font-size="9.8" text-anchor="middle" fill="#1d1a1b" textLength="31.6" lengthAdjust="spacingAndGlyphs" >Su9T01</text>
<text x="408.70" y="188.40" font-size="9.0" text-anchor="middle" fill="#1d1a1b" font-weight="normal" >36hr</text>
<line x1="33.20" y1="191.50" x2="33.20" y2="305.65" stroke="#1d1a1b" stroke-width="1.4" />
<line x1="30.20" y1="305.05" x2="33.20" y2="305.05" stroke="#1d1a1b" stroke-width="1.0" />
<text x="26.90" y="308.25" font-size="8.4" text-anchor="end" fill="#1d1a1b" font-weight="normal" >0.0</text>
<line x1="30.20" y1="250.55" x2="33.20" y2="250.55" stroke="#1d1a1b" stroke-width="1.0" />
<text x="26.90" y="253.75" font-size="8.4" text-anchor="end" fill="#1d1a1b" font-weight="normal" >0.5</text>
<line x1="30.20" y1="196.05" x2="33.20" y2="196.05" stroke="#1d1a1b" stroke-width="1.0" />
<text x="26.90" y="199.25" font-size="8.4" text-anchor="end" fill="#1d1a1b" font-weight="normal" >1.0</text>
<line x1="30.20" y1="277.80" x2="33.20" y2="277.80" stroke="#1d1a1b" stroke-width="1.0" />
<line x1="30.20" y1="223.30" x2="33.20" y2="223.30" stroke="#1d1a1b" stroke-width="1.0" />
<line x1="32.60" y1="305.05" x2="133.30" y2="305.05" stroke="#1d1a1b" stroke-width="1.4" />
<line x1="50.40" y1="305.05" x2="50.40" y2="308.05" stroke="#1d1a1b" stroke-width="1.0" />
<text x="50.40" y="317.65" font-size="8.4" text-anchor="middle" fill="#1d1a1b" font-weight="normal" >0:1</text>
<line x1="76.00" y1="305.05" x2="76.00" y2="308.05" stroke="#1d1a1b" stroke-width="1.0" />
<text x="76.00" y="317.65" font-size="8.4" text-anchor="middle" fill="#1d1a1b" font-weight="normal" >1:1</text>
<line x1="101.30" y1="305.05" x2="101.30" y2="308.05" stroke="#1d1a1b" stroke-width="1.0" />
<text x="101.30" y="317.65" font-size="8.4" text-anchor="middle" fill="#1d1a1b" font-weight="normal" >2:1</text>
<line x1="126.30" y1="305.05" x2="126.30" y2="308.05" stroke="#1d1a1b" stroke-width="1.0" />
<text x="126.30" y="317.65" font-size="8.4" text-anchor="middle" fill="#1d1a1b" font-weight="normal" >4:1</text>
<line x1="195.00" y1="191.50" x2="195.00" y2="305.65" stroke="#1d1a1b" stroke-width="1.4" />
<line x1="192.00" y1="305.05" x2="195.00" y2="305.05" stroke="#1d1a1b" stroke-width="1.0" />
<text x="188.70" y="308.25" font-size="8.4" text-anchor="end" fill="#1d1a1b" font-weight="normal" >0.0</text>
<line x1="192.00" y1="250.55" x2="195.00" y2="250.55" stroke="#1d1a1b" stroke-width="1.0" />
<text x="188.70" y="253.75" font-size="8.4" text-anchor="end" fill="#1d1a1b" font-weight="normal" >0.5</text>
<line x1="192.00" y1="196.05" x2="195.00" y2="196.05" stroke="#1d1a1b" stroke-width="1.0" />
<text x="188.70" y="199.25" font-size="8.4" text-anchor="end" fill="#1d1a1b" font-weight="normal" >1.0</text>
<line x1="192.00" y1="277.80" x2="195.00" y2="277.80" stroke="#1d1a1b" stroke-width="1.0" />
<line x1="192.00" y1="223.30" x2="195.00" y2="223.30" stroke="#1d1a1b" stroke-width="1.0" />
<line x1="194.40" y1="305.05" x2="292.50" y2="305.05" stroke="#1d1a1b" stroke-width="1.4" />
<line x1="212.00" y1="305.05" x2="212.00" y2="308.05" stroke="#1d1a1b" stroke-width="1.0" />
<text x="212.00" y="317.65" font-size="8.4" text-anchor="middle" fill="#1d1a1b" font-weight="normal" >0:1</text>
<line x1="237.40" y1="305.05" x2="237.40" y2="308.05" stroke="#1d1a1b" stroke-width="1.0" />
<text x="237.40" y="317.65" font-size="8.4" text-anchor="middle" fill="#1d1a1b" font-weight="normal" >1:1</text>
<line x1="262.80" y1="305.05" x2="262.80" y2="308.05" stroke="#1d1a1b" stroke-width="1.0" />
<text x="262.80" y="317.65" font-size="8.4" text-anchor="middle" fill="#1d1a1b" font-weight="normal" >2:1</text>
<line x1="288.20" y1="305.05" x2="288.20" y2="308.05" stroke="#1d1a1b" stroke-width="1.0" />
<text x="288.20" y="317.65" font-size="8.4" text-anchor="middle" fill="#1d1a1b" font-weight="normal" >4:1</text>
<line x1="359.60" y1="191.50" x2="359.60" y2="305.65" stroke="#1d1a1b" stroke-width="1.4" />
<line x1="356.60" y1="305.05" x2="359.60" y2="305.05" stroke="#1d1a1b" stroke-width="1.0" />
<text x="353.30" y="308.25" font-size="8.4" text-anchor="end" fill="#1d1a1b" font-weight="normal" >0.0</text>
<line x1="356.60" y1="250.55" x2="359.60" y2="250.55" stroke="#1d1a1b" stroke-width="1.0" />
<text x="353.30" y="253.75" font-size="8.4" text-anchor="end" fill="#1d1a1b" font-weight="normal" >0.5</text>
<line x1="356.60" y1="196.05" x2="359.60" y2="196.05" stroke="#1d1a1b" stroke-width="1.0" />
<text x="353.30" y="199.25" font-size="8.4" text-anchor="end" fill="#1d1a1b" font-weight="normal" >1.0</text>
<line x1="356.60" y1="277.80" x2="359.60" y2="277.80" stroke="#1d1a1b" stroke-width="1.0" />
<line x1="356.60" y1="223.30" x2="359.60" y2="223.30" stroke="#1d1a1b" stroke-width="1.0" />
<line x1="359.00" y1="305.05" x2="457.00" y2="305.05" stroke="#1d1a1b" stroke-width="1.4" />
<line x1="376.80" y1="305.05" x2="376.80" y2="308.05" stroke="#1d1a1b" stroke-width="1.0" />
<text x="376.80" y="317.65" font-size="8.4" text-anchor="middle" fill="#1d1a1b" font-weight="normal" >0:1</text>
<line x1="402.20" y1="305.05" x2="402.20" y2="308.05" stroke="#1d1a1b" stroke-width="1.0" />
<text x="402.20" y="317.65" font-size="8.4" text-anchor="middle" fill="#1d1a1b" font-weight="normal" >0.5:1</text>
<line x1="427.60" y1="305.05" x2="427.60" y2="308.05" stroke="#1d1a1b" stroke-width="1.0" />
<text x="427.60" y="317.65" font-size="8.4" text-anchor="middle" fill="#1d1a1b" font-weight="normal" >1:1</text>
<line x1="453.00" y1="305.05" x2="453.00" y2="308.05" stroke="#1d1a1b" stroke-width="1.0" />
<text x="453.00" y="317.65" font-size="8.4" text-anchor="middle" fill="#1d1a1b" font-weight="normal" >2:1</text>
<text x="243.90" y="330.40" font-size="10.4" text-anchor="middle" fill="#1d1a1b" textLength="24.6" lengthAdjust="spacingAndGlyphs" >ET ratio</text>
<text transform="translate(8.6,248.2) rotate(-90)" font-size="8.4" text-anchor="middle" fill="#1d1a1b" textLength="133" lengthAdjust="spacingAndGlyphs">Live cell (normalized by ET ratio =0:1)</text>
<polyline points="50.40,196.05 76.00,260.91 101.30,283.25 126.30,293.06" fill="none" stroke="#1f5483" stroke-width="1.9" stroke-linejoin="round"/>
<polyline points="50.40,196.05 76.00,220.47 101.30,252.08 126.30,252.08" fill="none" stroke="#f3a41f" stroke-width="1.9" stroke-linejoin="round"/>
<polyline points="50.40,196.05 76.00,225.70 101.30,252.08 126.30,243.03" fill="none" stroke="#b8163a" stroke-width="1.9" stroke-linejoin="round"/>
<polyline points="50.40,196.05 76.00,256.00 101.30,276.06 126.30,293.06" fill="none" stroke="#4f2478" stroke-width="1.9" stroke-linejoin="round"/>
<line x1="50.40" y1="193.87" x2="50.40" y2="198.23" stroke="#1d1a1b" stroke-width="1.15" />
<line x1="47.40" y1="193.87" x2="53.40" y2="193.87" stroke="#1d1a1b" stroke-width="1.15" />
<line x1="47.40" y1="198.23" x2="53.40" y2="198.23" stroke="#1d1a1b" stroke-width="1.15" />
<circle cx="50.40" cy="196.05" r="2.30" fill="#1f5483"/>
<line x1="76.00" y1="259.27" x2="76.00" y2="262.54" stroke="#1d1a1b" stroke-width="1.15" />
<line x1="73.00" y1="259.27" x2="79.00" y2="259.27" stroke="#1d1a1b" stroke-width="1.15" />
<line x1="73.00" y1="262.54" x2="79.00" y2="262.54" stroke="#1d1a1b" stroke-width="1.15" />
<circle cx="76.00" cy="260.91" r="2.30" fill="#1f5483"/>
<line x1="101.30" y1="282.16" x2="101.30" y2="284.34" stroke="#1d1a1b" stroke-width="1.15" />
<line x1="98.30" y1="282.16" x2="104.30" y2="282.16" stroke="#1d1a1b" stroke-width="1.15" />
<line x1="98.30" y1="284.34" x2="104.30" y2="284.34" stroke="#1d1a1b" stroke-width="1.15" />
<circle cx="101.30" cy="283.25" r="2.30" fill="#1f5483"/>
<line x1="126.30" y1="291.97" x2="126.30" y2="294.15" stroke="#1d1a1b" stroke-width="1.15" />
<line x1="123.30" y1="291.97" x2="129.30" y2="291.97" stroke="#1d1a1b" stroke-width="1.15" />
<line x1="123.30" y1="294.15" x2="129.30" y2="294.15" stroke="#1d1a1b" stroke-width="1.15" />
<circle cx="126.30" cy="293.06" r="2.30" fill="#1f5483"/>
<line x1="50.40" y1="192.78" x2="50.40" y2="199.32" stroke="#1d1a1b" stroke-width="1.15" />
<line x1="47.40" y1="192.78" x2="53.40" y2="192.78" stroke="#1d1a1b" stroke-width="1.15" />
<line x1="47.40" y1="199.32" x2="53.40" y2="199.32" stroke="#1d1a1b" stroke-width="1.15" />
<path d="M47.52,193.87 L53.27,193.87 L50.40,198.93 Z" fill="#f3a41f"/>
<line x1="76.00" y1="218.29" x2="76.00" y2="222.65" stroke="#1d1a1b" stroke-width="1.15" />
<line x1="73.00" y1="218.29" x2="79.00" y2="218.29" stroke="#1d1a1b" stroke-width="1.15" />
<line x1="73.00" y1="222.65" x2="79.00" y2="222.65" stroke="#1d1a1b" stroke-width="1.15" />
<path d="M73.12,218.28 L78.88,218.28 L76.00,223.34 Z" fill="#f3a41f"/>
<line x1="101.30" y1="248.81" x2="101.30" y2="255.35" stroke="#1d1a1b" stroke-width="1.15" />
<line x1="98.30" y1="248.81" x2="104.30" y2="248.81" stroke="#1d1a1b" stroke-width="1.15" />
<line x1="98.30" y1="255.35" x2="104.30" y2="255.35" stroke="#1d1a1b" stroke-width="1.15" />
<path d="M98.42,249.89 L104.17,249.89 L101.30,254.95 Z" fill="#f3a41f"/>
<line x1="126.30" y1="248.81" x2="126.30" y2="255.35" stroke="#1d1a1b" stroke-width="1.15" />
<line x1="123.30" y1="248.81" x2="129.30" y2="248.81" stroke="#1d1a1b" stroke-width="1.15" />
<line x1="123.30" y1="255.35" x2="129.30" y2="255.35" stroke="#1d1a1b" stroke-width="1.15" />
<path d="M123.42,249.89 L129.18,249.89 L126.30,254.95 Z" fill="#f3a41f"/>
<line x1="50.40" y1="192.78" x2="50.40" y2="199.32" stroke="#1d1a1b" stroke-width="1.15" />
<line x1="47.40" y1="192.78" x2="53.40" y2="192.78" stroke="#1d1a1b" stroke-width="1.15" />
<line x1="47.40" y1="199.32" x2="53.40" y2="199.32" stroke="#1d1a1b" stroke-width="1.15" />
<rect x="48.10" y="193.75" width="4.60" height="4.60" fill="#b8163a"/>
<line x1="76.00" y1="224.06" x2="76.00" y2="227.33" stroke="#1d1a1b" stroke-width="1.15" />
<line x1="73.00" y1="224.06" x2="79.00" y2="224.06" stroke="#1d1a1b" stroke-width="1.15" />
<line x1="73.00" y1="227.33" x2="79.00" y2="227.33" stroke="#1d1a1b" stroke-width="1.15" />
<rect x="73.70" y="223.40" width="4.60" height="4.60" fill="#b8163a"/>
<line x1="101.30" y1="247.72" x2="101.30" y2="256.44" stroke="#1d1a1b" stroke-width="1.15" />
<line x1="98.30" y1="247.72" x2="104.30" y2="247.72" stroke="#1d1a1b" stroke-width="1.15" />
<line x1="98.30" y1="256.44" x2="104.30" y2="256.44" stroke="#1d1a1b" stroke-width="1.15" />
<rect x="99.00" y="249.78" width="4.60" height="4.60" fill="#b8163a"/>
<line x1="126.30" y1="241.39" x2="126.30" y2="244.66" stroke="#1d1a1b" stroke-width="1.15" />
<line x1="123.30" y1="241.39" x2="129.30" y2="241.39" stroke="#1d1a1b" stroke-width="1.15" />
<line x1="123.30" y1="244.66" x2="129.30" y2="244.66" stroke="#1d1a1b" stroke-width="1.15" />
<rect x="124.00" y="240.73" width="4.60" height="4.60" fill="#b8163a"/>
<line x1="50.40" y1="191.69" x2="50.40" y2="200.41" stroke="#1d1a1b" stroke-width="1.15" />
<line x1="47.40" y1="191.69" x2="53.40" y2="191.69" stroke="#1d1a1b" stroke-width="1.15" />
<line x1="47.40" y1="200.41" x2="53.40" y2="200.41" stroke="#1d1a1b" stroke-width="1.15" />
<path d="M50.40,193.06 L52.93,196.05 L50.40,199.04 L47.87,196.05 Z" fill="#4f2478"/>
<line x1="76.00" y1="252.73" x2="76.00" y2="259.27" stroke="#1d1a1b" stroke-width="1.15" />
<line x1="73.00" y1="252.73" x2="79.00" y2="252.73" stroke="#1d1a1b" stroke-width="1.15" />
<line x1="73.00" y1="259.27" x2="79.00" y2="259.27" stroke="#1d1a1b" stroke-width="1.15" />
<path d="M76.00,253.01 L78.53,256.00 L76.00,258.99 L73.47,256.00 Z" fill="#4f2478"/>
<line x1="101.30" y1="274.97" x2="101.30" y2="277.15" stroke="#1d1a1b" stroke-width="1.15" />
<line x1="98.30" y1="274.97" x2="104.30" y2="274.97" stroke="#1d1a1b" stroke-width="1.15" />
<line x1="98.30" y1="277.15" x2="104.30" y2="277.15" stroke="#1d1a1b" stroke-width="1.15" />
<path d="M101.30,273.07 L103.83,276.06 L101.30,279.05 L98.77,276.06 Z" fill="#4f2478"/>
<line x1="126.30" y1="291.97" x2="126.30" y2="294.15" stroke="#1d1a1b" stroke-width="1.15" />
<line x1="123.30" y1="291.97" x2="129.30" y2="291.97" stroke="#1d1a1b" stroke-width="1.15" />
<line x1="123.30" y1="294.15" x2="129.30" y2="294.15" stroke="#1d1a1b" stroke-width="1.15" />
<path d="M126.30,290.07 L128.83,293.06 L126.30,296.05 L123.77,293.06 Z" fill="#4f2478"/>
<circle cx="74.10" cy="200.40" r="1.1" fill="#d8a870" fill-opacity="0.9"/>
<circle cx="77.90" cy="200.40" r="1.1" fill="#d8a870" fill-opacity="0.9"/>
<circle cx="74.10" cy="209.50" r="1.1" fill="#ad4168" fill-opacity="0.9"/>
<circle cx="77.90" cy="209.50" r="1.1" fill="#ad4168" fill-opacity="0.9"/>
<circle cx="99.40" cy="228.70" r="1.1" fill="#d8a870" fill-opacity="0.9"/>
<circle cx="103.20" cy="228.70" r="1.1" fill="#d8a870" fill-opacity="0.9"/>
<circle cx="97.50" cy="238.30" r="1.1" fill="#ad4168" fill-opacity="0.9"/>
<circle cx="101.30" cy="238.30" r="1.1" fill="#ad4168" fill-opacity="0.9"/>
<circle cx="105.10" cy="238.30" r="1.1" fill="#ad4168" fill-opacity="0.9"/>
<circle cx="122.50" cy="225.80" r="1.1" fill="#d8a870" fill-opacity="0.9"/>
<circle cx="126.30" cy="225.80" r="1.1" fill="#d8a870" fill-opacity="0.9"/>
<circle cx="130.10" cy="225.80" r="1.1" fill="#d8a870" fill-opacity="0.9"/>
<circle cx="122.50" cy="234.00" r="1.1" fill="#ad4168" fill-opacity="0.9"/>
<circle cx="126.30" cy="234.00" r="1.1" fill="#ad4168" fill-opacity="0.9"/>
<circle cx="130.10" cy="234.00" r="1.1" fill="#ad4168" fill-opacity="0.9"/>
<polyline points="212.00,196.05 237.40,274.86 262.80,280.42 288.20,295.02" fill="none" stroke="#4f2478" stroke-width="1.9" stroke-linejoin="round"/>
<polyline points="212.00,196.05 237.40,263.63 262.80,280.42 288.20,291.10" fill="none" stroke="#1f5483" stroke-width="1.9" stroke-linejoin="round"/>
<polyline points="212.00,196.05 237.40,220.47 262.80,234.85 288.20,250.55" fill="none" stroke="#f3a41f" stroke-width="1.9" stroke-linejoin="round"/>
<polyline points="212.00,196.05 237.40,223.52 262.80,234.85 288.20,240.41" fill="none" stroke="#b8163a" stroke-width="1.9" stroke-linejoin="round"/>
<line x1="212.00" y1="191.69" x2="212.00" y2="200.41" stroke="#1d1a1b" stroke-width="1.15" />
<line x1="209.00" y1="191.69" x2="215.00" y2="191.69" stroke="#1d1a1b" stroke-width="1.15" />
<line x1="209.00" y1="200.41" x2="215.00" y2="200.41" stroke="#1d1a1b" stroke-width="1.15" />
<path d="M212.00,193.06 L214.53,196.05 L212.00,199.04 L209.47,196.05 Z" fill="#4f2478"/>
<line x1="237.40" y1="273.77" x2="237.40" y2="275.95" stroke="#1d1a1b" stroke-width="1.15" />
<line x1="234.40" y1="273.77" x2="240.40" y2="273.77" stroke="#1d1a1b" stroke-width="1.15" />
<line x1="234.40" y1="275.95" x2="240.40" y2="275.95" stroke="#1d1a1b" stroke-width="1.15" />
<path d="M237.40,271.87 L239.93,274.86 L237.40,277.85 L234.87,274.86 Z" fill="#4f2478"/>
<line x1="262.80" y1="279.33" x2="262.80" y2="281.51" stroke="#1d1a1b" stroke-width="1.15" />
<line x1="259.80" y1="279.33" x2="265.80" y2="279.33" stroke="#1d1a1b" stroke-width="1.15" />
<line x1="259.80" y1="281.51" x2="265.80" y2="281.51" stroke="#1d1a1b" stroke-width="1.15" />
<path d="M262.80,277.43 L265.33,280.42 L262.80,283.41 L260.27,280.42 Z" fill="#4f2478"/>
<line x1="288.20" y1="292.84" x2="288.20" y2="297.20" stroke="#1d1a1b" stroke-width="1.15" />
<line x1="285.20" y1="292.84" x2="291.20" y2="292.84" stroke="#1d1a1b" stroke-width="1.15" />
<line x1="285.20" y1="297.20" x2="291.20" y2="297.20" stroke="#1d1a1b" stroke-width="1.15" />
<path d="M288.20,292.03 L290.73,295.02 L288.20,298.01 L285.67,295.02 Z" fill="#4f2478"/>
<line x1="212.00" y1="193.87" x2="212.00" y2="198.23" stroke="#1d1a1b" stroke-width="1.15" />
<line x1="209.00" y1="193.87" x2="215.00" y2="193.87" stroke="#1d1a1b" stroke-width="1.15" />
<line x1="209.00" y1="198.23" x2="215.00" y2="198.23" stroke="#1d1a1b" stroke-width="1.15" />
<circle cx="212.00" cy="196.05" r="2.30" fill="#1f5483"/>
<line x1="237.40" y1="262.54" x2="237.40" y2="264.72" stroke="#1d1a1b" stroke-width="1.15" />
<line x1="234.40" y1="262.54" x2="240.40" y2="262.54" stroke="#1d1a1b" stroke-width="1.15" />
<line x1="234.40" y1="264.72" x2="240.40" y2="264.72" stroke="#1d1a1b" stroke-width="1.15" />
<circle cx="237.40" cy="263.63" r="2.30" fill="#1f5483"/>
<line x1="262.80" y1="279.33" x2="262.80" y2="281.51" stroke="#1d1a1b" stroke-width="1.15" />
<line x1="259.80" y1="279.33" x2="265.80" y2="279.33" stroke="#1d1a1b" stroke-width="1.15" />
<line x1="259.80" y1="281.51" x2="265.80" y2="281.51" stroke="#1d1a1b" stroke-width="1.15" />
<circle cx="262.80" cy="280.42" r="2.30" fill="#1f5483"/>
<line x1="288.20" y1="290.01" x2="288.20" y2="292.19" stroke="#1d1a1b" stroke-width="1.15" />
<line x1="285.20" y1="290.01" x2="291.20" y2="290.01" stroke="#1d1a1b" stroke-width="1.15" />
<line x1="285.20" y1="292.19" x2="291.20" y2="292.19" stroke="#1d1a1b" stroke-width="1.15" />
<circle cx="288.20" cy="291.10" r="2.30" fill="#1f5483"/>
<line x1="212.00" y1="191.69" x2="212.00" y2="200.41" stroke="#1d1a1b" stroke-width="1.15" />
<line x1="209.00" y1="191.69" x2="215.00" y2="191.69" stroke="#1d1a1b" stroke-width="1.15" />
<line x1="209.00" y1="200.41" x2="215.00" y2="200.41" stroke="#1d1a1b" stroke-width="1.15" />
<path d="M209.12,193.87 L214.88,193.87 L212.00,198.93 Z" fill="#f3a41f"/>
<line x1="237.40" y1="217.20" x2="237.40" y2="223.74" stroke="#1d1a1b" stroke-width="1.15" />
<line x1="234.40" y1="217.20" x2="240.40" y2="217.20" stroke="#1d1a1b" stroke-width="1.15" />
<line x1="234.40" y1="223.74" x2="240.40" y2="223.74" stroke="#1d1a1b" stroke-width="1.15" />
<path d="M234.53,218.28 L240.28,218.28 L237.40,223.34 Z" fill="#f3a41f"/>
<line x1="262.80" y1="230.49" x2="262.80" y2="239.21" stroke="#1d1a1b" stroke-width="1.15" />
<line x1="259.80" y1="230.49" x2="265.80" y2="230.49" stroke="#1d1a1b" stroke-width="1.15" />
<line x1="259.80" y1="239.21" x2="265.80" y2="239.21" stroke="#1d1a1b" stroke-width="1.15" />
<path d="M259.93,232.67 L265.68,232.67 L262.80,237.73 Z" fill="#f3a41f"/>
<line x1="288.20" y1="247.28" x2="288.20" y2="253.82" stroke="#1d1a1b" stroke-width="1.15" />
<line x1="285.20" y1="247.28" x2="291.20" y2="247.28" stroke="#1d1a1b" stroke-width="1.15" />
<line x1="285.20" y1="253.82" x2="291.20" y2="253.82" stroke="#1d1a1b" stroke-width="1.15" />
<path d="M285.32,248.37 L291.07,248.37 L288.20,253.43 Z" fill="#f3a41f"/>
<line x1="212.00" y1="193.87" x2="212.00" y2="198.23" stroke="#1d1a1b" stroke-width="1.15" />
<line x1="209.00" y1="193.87" x2="215.00" y2="193.87" stroke="#1d1a1b" stroke-width="1.15" />
<line x1="209.00" y1="198.23" x2="215.00" y2="198.23" stroke="#1d1a1b" stroke-width="1.15" />
<rect x="209.70" y="193.75" width="4.60" height="4.60" fill="#b8163a"/>
<line x1="237.40" y1="221.34" x2="237.40" y2="225.70" stroke="#1d1a1b" stroke-width="1.15" />
<line x1="234.40" y1="221.34" x2="240.40" y2="221.34" stroke="#1d1a1b" stroke-width="1.15" />
<line x1="234.40" y1="225.70" x2="240.40" y2="225.70" stroke="#1d1a1b" stroke-width="1.15" />
<rect x="235.10" y="221.22" width="4.60" height="4.60" fill="#b8163a"/>
<line x1="262.80" y1="231.58" x2="262.80" y2="238.12" stroke="#1d1a1b" stroke-width="1.15" />
<line x1="259.80" y1="231.58" x2="265.80" y2="231.58" stroke="#1d1a1b" stroke-width="1.15" />
<line x1="259.80" y1="238.12" x2="265.80" y2="238.12" stroke="#1d1a1b" stroke-width="1.15" />
<rect x="260.50" y="232.55" width="4.60" height="4.60" fill="#b8163a"/>
<line x1="288.20" y1="239.32" x2="288.20" y2="241.50" stroke="#1d1a1b" stroke-width="1.15" />
<line x1="285.20" y1="239.32" x2="291.20" y2="239.32" stroke="#1d1a1b" stroke-width="1.15" />
<line x1="285.20" y1="241.50" x2="291.20" y2="241.50" stroke="#1d1a1b" stroke-width="1.15" />
<rect x="285.90" y="238.11" width="4.60" height="4.60" fill="#b8163a"/>
<circle cx="235.50" cy="198.00" r="1.1" fill="#d8a870" fill-opacity="0.9"/>
<circle cx="239.30" cy="198.00" r="1.1" fill="#d8a870" fill-opacity="0.9"/>
<circle cx="235.50" cy="208.00" r="1.1" fill="#ad4168" fill-opacity="0.9"/>
<circle cx="239.30" cy="208.00" r="1.1" fill="#ad4168" fill-opacity="0.9"/>
<circle cx="260.90" cy="221.00" r="1.1" fill="#ad4168" fill-opacity="0.9"/>
<circle cx="264.70" cy="221.00" r="1.1" fill="#ad4168" fill-opacity="0.9"/>
<circle cx="288.20" cy="221.00" r="1.1" fill="#d8a870" fill-opacity="0.9"/>
<circle cx="286.30" cy="232.00" r="1.1" fill="#ad4168" fill-opacity="0.9"/>
<circle cx="290.10" cy="232.00" r="1.1" fill="#ad4168" fill-opacity="0.9"/>
<polyline points="376.80,196.05 402.20,279.98 427.60,294.80 453.00,300.36" fill="none" stroke="#4f2478" stroke-width="1.9" stroke-linejoin="round"/>
<polyline points="376.80,196.05 402.20,233.11 427.60,232.78 453.00,243.68" fill="none" stroke="#f3a41f" stroke-width="1.9" stroke-linejoin="round"/>
<polyline points="376.80,196.05 402.20,233.87 427.60,241.07 453.00,247.28" fill="none" stroke="#b8163a" stroke-width="1.9" stroke-linejoin="round"/>
<polyline points="376.80,196.05 402.20,285.10 427.60,294.80 453.00,300.36" fill="none" stroke="#1f5483" stroke-width="1.9" stroke-linejoin="round"/>
<line x1="376.80" y1="191.69" x2="376.80" y2="200.41" stroke="#1d1a1b" stroke-width="1.15" />
<line x1="373.80" y1="191.69" x2="379.80" y2="191.69" stroke="#1d1a1b" stroke-width="1.15" />
<line x1="373.80" y1="200.41" x2="379.80" y2="200.41" stroke="#1d1a1b" stroke-width="1.15" />
<path d="M376.80,193.06 L379.33,196.05 L376.80,199.04 L374.27,196.05 Z" fill="#4f2478"/>
<line x1="402.20" y1="274.53" x2="402.20" y2="285.43" stroke="#1d1a1b" stroke-width="1.15" />
<line x1="399.20" y1="274.53" x2="405.20" y2="274.53" stroke="#1d1a1b" stroke-width="1.15" />
<line x1="399.20" y1="285.43" x2="405.20" y2="285.43" stroke="#1d1a1b" stroke-width="1.15" />
<path d="M402.20,276.99 L404.73,279.98 L402.20,282.97 L399.67,279.98 Z" fill="#4f2478"/>
<line x1="427.60" y1="293.71" x2="427.60" y2="295.89" stroke="#1d1a1b" stroke-width="1.15" />
<line x1="424.60" y1="293.71" x2="430.60" y2="293.71" stroke="#1d1a1b" stroke-width="1.15" />
<line x1="424.60" y1="295.89" x2="430.60" y2="295.89" stroke="#1d1a1b" stroke-width="1.15" />
<path d="M427.60,291.81 L430.13,294.80 L427.60,297.79 L425.07,294.80 Z" fill="#4f2478"/>
<line x1="453.00" y1="299.27" x2="453.00" y2="301.45" stroke="#1d1a1b" stroke-width="1.15" />
<line x1="450.00" y1="299.27" x2="456.00" y2="299.27" stroke="#1d1a1b" stroke-width="1.15" />
<line x1="450.00" y1="301.45" x2="456.00" y2="301.45" stroke="#1d1a1b" stroke-width="1.15" />
<path d="M453.00,297.37 L455.53,300.36 L453.00,303.35 L450.47,300.36 Z" fill="#4f2478"/>
<line x1="376.80" y1="192.78" x2="376.80" y2="199.32" stroke="#1d1a1b" stroke-width="1.15" />
<line x1="373.80" y1="192.78" x2="379.80" y2="192.78" stroke="#1d1a1b" stroke-width="1.15" />
<line x1="373.80" y1="199.32" x2="379.80" y2="199.32" stroke="#1d1a1b" stroke-width="1.15" />
<path d="M373.93,193.87 L379.68,193.87 L376.80,198.93 Z" fill="#f3a41f"/>
<line x1="402.20" y1="229.84" x2="402.20" y2="236.38" stroke="#1d1a1b" stroke-width="1.15" />
<line x1="399.20" y1="229.84" x2="405.20" y2="229.84" stroke="#1d1a1b" stroke-width="1.15" />
<line x1="399.20" y1="236.38" x2="405.20" y2="236.38" stroke="#1d1a1b" stroke-width="1.15" />
<path d="M399.32,230.93 L405.07,230.93 L402.20,235.99 Z" fill="#f3a41f"/>
<line x1="427.60" y1="229.51" x2="427.60" y2="236.05" stroke="#1d1a1b" stroke-width="1.15" />
<line x1="424.60" y1="229.51" x2="430.60" y2="229.51" stroke="#1d1a1b" stroke-width="1.15" />
<line x1="424.60" y1="236.05" x2="430.60" y2="236.05" stroke="#1d1a1b" stroke-width="1.15" />
<path d="M424.73,230.60 L430.48,230.60 L427.60,235.66 Z" fill="#f3a41f"/>
<line x1="453.00" y1="241.50" x2="453.00" y2="245.86" stroke="#1d1a1b" stroke-width="1.15" />
<line x1="450.00" y1="241.50" x2="456.00" y2="241.50" stroke="#1d1a1b" stroke-width="1.15" />
<line x1="450.00" y1="245.86" x2="456.00" y2="245.86" stroke="#1d1a1b" stroke-width="1.15" />
<path d="M450.12,241.50 L455.88,241.50 L453.00,246.56 Z" fill="#f3a41f"/>
<line x1="376.80" y1="193.87" x2="376.80" y2="198.23" stroke="#1d1a1b" stroke-width="1.15" />
<line x1="373.80" y1="193.87" x2="379.80" y2="193.87" stroke="#1d1a1b" stroke-width="1.15" />
<line x1="373.80" y1="198.23" x2="379.80" y2="198.23" stroke="#1d1a1b" stroke-width="1.15" />
<rect x="374.50" y="193.75" width="4.60" height="4.60" fill="#b8163a"/>
<line x1="402.20" y1="231.69" x2="402.20" y2="236.05" stroke="#1d1a1b" stroke-width="1.15" />
<line x1="399.20" y1="231.69" x2="405.20" y2="231.69" stroke="#1d1a1b" stroke-width="1.15" />
<line x1="399.20" y1="236.05" x2="405.20" y2="236.05" stroke="#1d1a1b" stroke-width="1.15" />
<rect x="399.90" y="231.57" width="4.60" height="4.60" fill="#b8163a"/>
<line x1="427.60" y1="239.98" x2="427.60" y2="242.16" stroke="#1d1a1b" stroke-width="1.15" />
<line x1="424.60" y1="239.98" x2="430.60" y2="239.98" stroke="#1d1a1b" stroke-width="1.15" />
<line x1="424.60" y1="242.16" x2="430.60" y2="242.16" stroke="#1d1a1b" stroke-width="1.15" />
<rect x="425.30" y="238.77" width="4.60" height="4.60" fill="#b8163a"/>
<line x1="453.00" y1="244.01" x2="453.00" y2="250.55" stroke="#1d1a1b" stroke-width="1.15" />
<line x1="450.00" y1="244.01" x2="456.00" y2="244.01" stroke="#1d1a1b" stroke-width="1.15" />
<line x1="450.00" y1="250.55" x2="456.00" y2="250.55" stroke="#1d1a1b" stroke-width="1.15" />
<rect x="450.70" y="244.98" width="4.60" height="4.60" fill="#b8163a"/>
<line x1="376.80" y1="193.87" x2="376.80" y2="198.23" stroke="#1d1a1b" stroke-width="1.15" />
<line x1="373.80" y1="193.87" x2="379.80" y2="193.87" stroke="#1d1a1b" stroke-width="1.15" />
<line x1="373.80" y1="198.23" x2="379.80" y2="198.23" stroke="#1d1a1b" stroke-width="1.15" />
<circle cx="376.80" cy="196.05" r="2.30" fill="#1f5483"/>
<line x1="402.20" y1="282.92" x2="402.20" y2="287.28" stroke="#1d1a1b" stroke-width="1.15" />
<line x1="399.20" y1="282.92" x2="405.20" y2="282.92" stroke="#1d1a1b" stroke-width="1.15" />
<line x1="399.20" y1="287.28" x2="405.20" y2="287.28" stroke="#1d1a1b" stroke-width="1.15" />
<circle cx="402.20" cy="285.10" r="2.30" fill="#1f5483"/>
<line x1="427.60" y1="293.71" x2="427.60" y2="295.89" stroke="#1d1a1b" stroke-width="1.15" />
<line x1="424.60" y1="293.71" x2="430.60" y2="293.71" stroke="#1d1a1b" stroke-width="1.15" />
<line x1="424.60" y1="295.89" x2="430.60" y2="295.89" stroke="#1d1a1b" stroke-width="1.15" />
<circle cx="427.60" cy="294.80" r="2.30" fill="#1f5483"/>
<line x1="453.00" y1="299.27" x2="453.00" y2="301.45" stroke="#1d1a1b" stroke-width="1.15" />
<line x1="450.00" y1="299.27" x2="456.00" y2="299.27" stroke="#1d1a1b" stroke-width="1.15" />
<line x1="450.00" y1="301.45" x2="456.00" y2="301.45" stroke="#1d1a1b" stroke-width="1.15" />
<circle cx="453.00" cy="300.36" r="2.30" fill="#1f5483"/>
<circle cx="400.30" cy="210.00" r="1.1" fill="#d8a870" fill-opacity="0.9"/>
<circle cx="404.10" cy="210.00" r="1.1" fill="#d8a870" fill-opacity="0.9"/>
<circle cx="400.30" cy="220.60" r="1.1" fill="#ad4168" fill-opacity="0.9"/>
<circle cx="404.10" cy="220.60" r="1.1" fill="#ad4168" fill-opacity="0.9"/>
<circle cx="427.60" cy="221.70" r="1.1" fill="#ad4168" fill-opacity="0.9"/>
<circle cx="451.10" cy="221.70" r="1.1" fill="#d8a870" fill-opacity="0.9"/>
<circle cx="454.90" cy="221.70" r="1.1" fill="#d8a870" fill-opacity="0.9"/>
<circle cx="453.00" cy="232.70" r="1.1" fill="#ad4168" fill-opacity="0.9"/>
<line x1="469.20" y1="194.90" x2="480.80" y2="194.90" stroke="#4f2478" stroke-width="1.5" />
<path d="M475.00,192.43 L477.09,194.90 L475.00,197.37 L472.91,194.90 Z" fill="#4f2478"/>
<text x="484.50" y="197.50" font-size="7.4" text-anchor="start" fill="#1d1a1b" font-weight="normal" >sgAAVS1</text>
<line x1="469.20" y1="208.20" x2="480.80" y2="208.20" stroke="#f3a41f" stroke-width="1.5" />
<path d="M472.62,206.39 L477.38,206.39 L475.00,210.57 Z" fill="#f3a41f"/>
<text x="484.50" y="210.80" font-size="7.4" text-anchor="start" fill="#1d1a1b" font-weight="normal" >sgCD48#2</text>
<line x1="469.20" y1="221.50" x2="480.80" y2="221.50" stroke="#b8163a" stroke-width="1.5" />
<rect x="473.10" y="219.60" width="3.80" height="3.80" fill="#b8163a"/>
<text x="484.50" y="224.10" font-size="7.4" text-anchor="start" fill="#1d1a1b" font-weight="normal" >sgCD48#3</text>
<line x1="469.20" y1="235.40" x2="480.80" y2="235.40" stroke="#1f5483" stroke-width="1.5" />
<circle cx="475.00" cy="235.40" r="1.90" fill="#1f5483"/>
<text x="484.50" y="238.00" font-size="7.4" text-anchor="start" fill="#1d1a1b" font-weight="normal" >sgCCR4</text>
<text x="29.60" y="351.40" font-size="9.8" text-anchor="start" fill="#1d1a1b" textLength="16.2" lengthAdjust="spacingAndGlyphs" >NK:</text>
<text x="29.60" y="362.80" font-size="9.8" text-anchor="start" fill="#1d1a1b" textLength="30.8" lengthAdjust="spacingAndGlyphs" >Target:</text>
<text x="80.00" y="351.40" font-size="9.8" text-anchor="start" fill="#1d1a1b" font-weight="normal" >YT1</text>
<text x="80.00" y="362.80" font-size="9.8" text-anchor="start" fill="#1d1a1b" font-weight="normal" >ST1</text>
<text x="79.40" y="376.40" font-size="9.0" text-anchor="start" fill="#1d1a1b" font-weight="normal" >20hr</text>
<text x="244.40" y="352.80" font-size="9.8" text-anchor="middle" fill="#1d1a1b" font-weight="normal" >YT1</text>
<text x="244.40" y="364.50" font-size="9.8" text-anchor="middle" fill="#1d1a1b" textLength="31.6" lengthAdjust="spacingAndGlyphs" >Su9T01</text>
<text x="244.40" y="376.60" font-size="9.0" text-anchor="middle" fill="#1d1a1b" font-weight="normal" >36hr</text>
<text x="289.50" y="352.30" font-size="8" text-anchor="start" fill="#1d1a1b" font-weight="normal" >ET ratio</text>
<rect x="290" y="357" width="4.6" height="4.6" fill="#b8163a"/>
<text x="297.00" y="361.80" font-size="8" text-anchor="start" fill="#1d1a1b" font-weight="normal" >0:1</text>
<rect x="290" y="366.5" width="4.6" height="4.6" fill="#1f5483"/>
<text x="297.00" y="371.30" font-size="8" text-anchor="start" fill="#1d1a1b" font-weight="normal" >8:1</text>
<line x1="32.35" y1="398.00" x2="32.35" y2="488.20" stroke="#1d1a1b" stroke-width="1.4" />
<line x1="29.35" y1="487.60" x2="32.35" y2="487.60" stroke="#1d1a1b" stroke-width="1.0" />
<text x="26.05" y="490.80" font-size="8.4" text-anchor="end" fill="#1d1a1b" font-weight="normal" >0.0</text>
<line x1="29.35" y1="445.00" x2="32.35" y2="445.00" stroke="#1d1a1b" stroke-width="1.0" />
<text x="26.05" y="448.20" font-size="8.4" text-anchor="end" fill="#1d1a1b" font-weight="normal" >0.5</text>
<line x1="29.35" y1="402.40" x2="32.35" y2="402.40" stroke="#1d1a1b" stroke-width="1.0" />
<text x="26.05" y="405.60" font-size="8.4" text-anchor="end" fill="#1d1a1b" font-weight="normal" >1.0</text>
<line x1="29.35" y1="466.30" x2="32.35" y2="466.30" stroke="#1d1a1b" stroke-width="1.0" />
<line x1="29.35" y1="423.70" x2="32.35" y2="423.70" stroke="#1d1a1b" stroke-width="1.0" />
<line x1="31.75" y1="487.60" x2="144.60" y2="487.60" stroke="#1d1a1b" stroke-width="1.4" />
<rect x="35.20" y="402.40" width="4.9" height="85.20" fill="#cd1239"/>
<line x1="37.65" y1="400.70" x2="37.65" y2="402.40" stroke="#1d1a1b" stroke-width="0.9" />
<line x1="36.25" y1="400.70" x2="39.05" y2="400.70" stroke="#1d1a1b" stroke-width="0.9" />
<line x1="36.25" y1="402.40" x2="39.05" y2="402.40" stroke="#1d1a1b" stroke-width="0.9" />
<rect x="42.10" y="462.04" width="4.9" height="25.56" fill="#1b5a91"/>
<line x1="44.55" y1="461.19" x2="44.55" y2="462.04" stroke="#1d1a1b" stroke-width="0.9" />
<line x1="43.15" y1="461.19" x2="45.95" y2="461.19" stroke="#1d1a1b" stroke-width="0.9" />
<line x1="43.15" y1="462.04" x2="45.95" y2="462.04" stroke="#1d1a1b" stroke-width="0.9" />
<line x1="41.30" y1="487.60" x2="41.30" y2="490.20" stroke="#1d1a1b" stroke-width="1.0" />
<text transform="translate(46.30,496.20) rotate(-45)" font-size="8.7" text-anchor="end" fill="#1d1a1b" style="stroke-width:0.1px">sgAAVS1</text>
<rect x="54.00" y="402.40" width="4.9" height="85.20" fill="#cd1239"/>
<line x1="56.45" y1="400.70" x2="56.45" y2="402.40" stroke="#1d1a1b" stroke-width="0.9" />
<line x1="55.05" y1="400.70" x2="57.85" y2="400.70" stroke="#1d1a1b" stroke-width="0.9" />
<line x1="55.05" y1="402.40" x2="57.85" y2="402.40" stroke="#1d1a1b" stroke-width="0.9" />
<rect x="60.90" y="414.75" width="4.9" height="72.85" fill="#1b5a91"/>
<line x1="63.35" y1="412.20" x2="63.35" y2="414.75" stroke="#1d1a1b" stroke-width="0.9" />
<line x1="61.95" y1="412.20" x2="64.75" y2="412.20" stroke="#1d1a1b" stroke-width="0.9" />
<line x1="61.95" y1="414.75" x2="64.75" y2="414.75" stroke="#1d1a1b" stroke-width="0.9" />
<line x1="60.10" y1="487.60" x2="60.10" y2="490.20" stroke="#1d1a1b" stroke-width="1.0" />
<text transform="translate(65.10,496.20) rotate(-45)" font-size="8.7" text-anchor="end" fill="#1d1a1b" style="stroke-width:0.1px">sgCD48#2</text>
<rect x="72.80" y="402.40" width="4.9" height="85.20" fill="#cd1239"/>
<line x1="75.25" y1="398.99" x2="75.25" y2="402.40" stroke="#1d1a1b" stroke-width="0.9" />
<line x1="73.85" y1="398.99" x2="76.65" y2="398.99" stroke="#1d1a1b" stroke-width="0.9" />
<line x1="73.85" y1="402.40" x2="76.65" y2="402.40" stroke="#1d1a1b" stroke-width="0.9" />
<rect x="79.70" y="407.09" width="4.9" height="80.51" fill="#1b5a91"/>
<line x1="82.15" y1="406.23" x2="82.15" y2="407.09" stroke="#1d1a1b" stroke-width="0.9" />
<line x1="80.75" y1="406.23" x2="83.55" y2="406.23" stroke="#1d1a1b" stroke-width="0.9" />
<line x1="80.75" y1="407.09" x2="83.55" y2="407.09" stroke="#1d1a1b" stroke-width="0.9" />
<line x1="78.90" y1="487.60" x2="78.90" y2="490.20" stroke="#1d1a1b" stroke-width="1.0" />
<text transform="translate(83.90,496.20) rotate(-45)" font-size="8.7" text-anchor="end" fill="#1d1a1b" style="stroke-width:0.1px">sgCD48#3</text>
<rect x="91.60" y="402.40" width="4.9" height="85.20" fill="#cd1239"/>
<line x1="94.05" y1="400.70" x2="94.05" y2="402.40" stroke="#1d1a1b" stroke-width="0.9" />
<line x1="92.65" y1="400.70" x2="95.45" y2="400.70" stroke="#1d1a1b" stroke-width="0.9" />
<line x1="92.65" y1="402.40" x2="95.45" y2="402.40" stroke="#1d1a1b" stroke-width="0.9" />
<rect x="98.50" y="458.12" width="4.9" height="29.48" fill="#1b5a91"/>
<line x1="100.95" y1="457.27" x2="100.95" y2="458.12" stroke="#1d1a1b" stroke-width="0.9" />
<line x1="99.55" y1="457.27" x2="102.35" y2="457.27" stroke="#1d1a1b" stroke-width="0.9" />
<line x1="99.55" y1="458.12" x2="102.35" y2="458.12" stroke="#1d1a1b" stroke-width="0.9" />
<line x1="97.70" y1="487.60" x2="97.70" y2="490.20" stroke="#1d1a1b" stroke-width="1.0" />
<text transform="translate(102.70,496.20) rotate(-45)" font-size="8.7" text-anchor="end" fill="#1d1a1b" style="stroke-width:0.1px">sgCD58#3</text>
<rect x="110.40" y="402.40" width="4.9" height="85.20" fill="#cd1239"/>
<line x1="112.85" y1="398.99" x2="112.85" y2="402.40" stroke="#1d1a1b" stroke-width="0.9" />
<line x1="111.45" y1="398.99" x2="114.25" y2="398.99" stroke="#1d1a1b" stroke-width="0.9" />
<line x1="111.45" y1="402.40" x2="114.25" y2="402.40" stroke="#1d1a1b" stroke-width="0.9" />
<rect x="117.30" y="462.04" width="4.9" height="25.56" fill="#1b5a91"/>
<line x1="119.75" y1="461.19" x2="119.75" y2="462.04" stroke="#1d1a1b" stroke-width="0.9" />
<line x1="118.35" y1="461.19" x2="121.15" y2="461.19" stroke="#1d1a1b" stroke-width="0.9" />
<line x1="118.35" y1="462.04" x2="121.15" y2="462.04" stroke="#1d1a1b" stroke-width="0.9" />
<line x1="116.50" y1="487.60" x2="116.50" y2="490.20" stroke="#1d1a1b" stroke-width="1.0" />
<text transform="translate(121.50,496.20) rotate(-45)" font-size="8.7" text-anchor="end" fill="#1d1a1b" style="stroke-width:0.1px">sgCD58#4</text>
<rect x="129.20" y="402.40" width="4.9" height="85.20" fill="#cd1239"/>
<line x1="131.65" y1="396.44" x2="131.65" y2="402.40" stroke="#1d1a1b" stroke-width="0.9" />
<line x1="130.25" y1="396.44" x2="133.05" y2="396.44" stroke="#1d1a1b" stroke-width="0.9" />
<line x1="130.25" y1="402.40" x2="133.05" y2="402.40" stroke="#1d1a1b" stroke-width="0.9" />
<rect x="136.10" y="462.04" width="4.9" height="25.56" fill="#1b5a91"/>
<line x1="138.55" y1="459.48" x2="138.55" y2="462.04" stroke="#1d1a1b" stroke-width="0.9" />
<line x1="137.15" y1="459.48" x2="139.95" y2="459.48" stroke="#1d1a1b" stroke-width="0.9" />
<line x1="137.15" y1="462.04" x2="139.95" y2="462.04" stroke="#1d1a1b" stroke-width="0.9" />
<line x1="135.30" y1="487.60" x2="135.30" y2="490.20" stroke="#1d1a1b" stroke-width="1.0" />
<text transform="translate(140.30,496.20) rotate(-45)" font-size="8.7" text-anchor="end" fill="#1d1a1b" style="stroke-width:0.1px">sgCCR4</text>
<line x1="188.05" y1="398.00" x2="188.05" y2="488.30" stroke="#1d1a1b" stroke-width="1.4" />
<line x1="185.05" y1="487.70" x2="188.05" y2="487.70" stroke="#1d1a1b" stroke-width="1.0" />
<text x="181.75" y="490.90" font-size="8.4" text-anchor="end" fill="#1d1a1b" font-weight="normal" ></text>
<line x1="185.05" y1="445.05" x2="188.05" y2="445.05" stroke="#1d1a1b" stroke-width="1.0" />
<text x="181.75" y="448.25" font-size="8.4" text-anchor="end" fill="#1d1a1b" font-weight="normal" >0.5</text>
<line x1="185.05" y1="402.40" x2="188.05" y2="402.40" stroke="#1d1a1b" stroke-width="1.0" />
<text x="181.75" y="405.60" font-size="8.4" text-anchor="end" fill="#1d1a1b" font-weight="normal" >1.0</text>
<line x1="185.05" y1="466.38" x2="188.05" y2="466.38" stroke="#1d1a1b" stroke-width="1.0" />
<line x1="185.05" y1="423.73" x2="188.05" y2="423.73" stroke="#1d1a1b" stroke-width="1.0" />
<line x1="187.45" y1="487.70" x2="299.50" y2="487.70" stroke="#1d1a1b" stroke-width="1.4" />
<rect x="190.90" y="402.40" width="4.9" height="85.30" fill="#cd1239"/>
<line x1="193.35" y1="398.13" x2="193.35" y2="402.40" stroke="#1d1a1b" stroke-width="0.9" />
<line x1="191.95" y1="398.13" x2="194.75" y2="398.13" stroke="#1d1a1b" stroke-width="0.9" />
<line x1="191.95" y1="402.40" x2="194.75" y2="402.40" stroke="#1d1a1b" stroke-width="0.9" />
<rect x="197.80" y="469.79" width="4.9" height="17.91" fill="#1b5a91"/>
<line x1="200.25" y1="467.23" x2="200.25" y2="469.79" stroke="#1d1a1b" stroke-width="0.9" />
<line x1="198.85" y1="467.23" x2="201.65" y2="467.23" stroke="#1d1a1b" stroke-width="0.9" />
<line x1="198.85" y1="469.79" x2="201.65" y2="469.79" stroke="#1d1a1b" stroke-width="0.9" />
<line x1="197.00" y1="487.70" x2="197.00" y2="490.30" stroke="#1d1a1b" stroke-width="1.0" />
<text transform="translate(202.00,496.30) rotate(-45)" font-size="8.7" text-anchor="end" fill="#1d1a1b" style="stroke-width:0.1px">sgAAVS1</text>
<rect x="209.70" y="402.40" width="4.9" height="85.30" fill="#cd1239"/>
<line x1="212.15" y1="396.43" x2="212.15" y2="402.40" stroke="#1d1a1b" stroke-width="0.9" />
<line x1="210.75" y1="396.43" x2="213.55" y2="396.43" stroke="#1d1a1b" stroke-width="0.9" />
<line x1="210.75" y1="402.40" x2="213.55" y2="402.40" stroke="#1d1a1b" stroke-width="0.9" />
<rect x="216.60" y="452.47" width="4.9" height="35.23" fill="#1b5a91"/>
<line x1="219.05" y1="449.06" x2="219.05" y2="452.47" stroke="#1d1a1b" stroke-width="0.9" />
<line x1="217.65" y1="449.06" x2="220.45" y2="449.06" stroke="#1d1a1b" stroke-width="0.9" />
<line x1="217.65" y1="452.47" x2="220.45" y2="452.47" stroke="#1d1a1b" stroke-width="0.9" />
<line x1="215.80" y1="487.70" x2="215.80" y2="490.30" stroke="#1d1a1b" stroke-width="1.0" />
<text transform="translate(220.80,496.30) rotate(-45)" font-size="8.7" text-anchor="end" fill="#1d1a1b" style="stroke-width:0.1px">sgCD48#2</text>
<rect x="228.50" y="402.40" width="4.9" height="85.30" fill="#cd1239"/>
<line x1="230.95" y1="398.99" x2="230.95" y2="402.40" stroke="#1d1a1b" stroke-width="0.9" />
<line x1="229.55" y1="398.99" x2="232.35" y2="398.99" stroke="#1d1a1b" stroke-width="0.9" />
<line x1="229.55" y1="402.40" x2="232.35" y2="402.40" stroke="#1d1a1b" stroke-width="0.9" />
<rect x="235.40" y="456.48" width="4.9" height="31.22" fill="#1b5a91"/>
<line x1="237.85" y1="454.77" x2="237.85" y2="456.48" stroke="#1d1a1b" stroke-width="0.9" />
<line x1="236.45" y1="454.77" x2="239.25" y2="454.77" stroke="#1d1a1b" stroke-width="0.9" />
<line x1="236.45" y1="456.48" x2="239.25" y2="456.48" stroke="#1d1a1b" stroke-width="0.9" />
<line x1="234.60" y1="487.70" x2="234.60" y2="490.30" stroke="#1d1a1b" stroke-width="1.0" />
<text transform="translate(239.60,496.30) rotate(-45)" font-size="8.7" text-anchor="end" fill="#1d1a1b" style="stroke-width:0.1px">sgCD48#3</text>
<rect x="247.30" y="402.40" width="4.9" height="85.30" fill="#cd1239"/>
<line x1="249.75" y1="398.13" x2="249.75" y2="402.40" stroke="#1d1a1b" stroke-width="0.9" />
<line x1="248.35" y1="398.13" x2="251.15" y2="398.13" stroke="#1d1a1b" stroke-width="0.9" />
<line x1="248.35" y1="402.40" x2="251.15" y2="402.40" stroke="#1d1a1b" stroke-width="0.9" />
<rect x="254.20" y="478.06" width="4.9" height="9.64" fill="#1b5a91"/>
<line x1="256.65" y1="476.36" x2="256.65" y2="478.06" stroke="#1d1a1b" stroke-width="0.9" />
<line x1="255.25" y1="476.36" x2="258.05" y2="476.36" stroke="#1d1a1b" stroke-width="0.9" />
<line x1="255.25" y1="478.06" x2="258.05" y2="478.06" stroke="#1d1a1b" stroke-width="0.9" />
<line x1="253.40" y1="487.70" x2="253.40" y2="490.30" stroke="#1d1a1b" stroke-width="1.0" />
<text transform="translate(258.40,496.30) rotate(-45)" font-size="8.7" text-anchor="end" fill="#1d1a1b" style="stroke-width:0.1px">sgCD58#3</text>
<rect x="266.10" y="402.40" width="4.9" height="85.30" fill="#cd1239"/>
<line x1="268.55" y1="398.13" x2="268.55" y2="402.40" stroke="#1d1a1b" stroke-width="0.9" />
<line x1="267.15" y1="398.13" x2="269.95" y2="398.13" stroke="#1d1a1b" stroke-width="0.9" />
<line x1="267.15" y1="402.40" x2="269.95" y2="402.40" stroke="#1d1a1b" stroke-width="0.9" />
<rect x="273.00" y="478.40" width="4.9" height="9.30" fill="#1b5a91"/>
<line x1="275.45" y1="477.55" x2="275.45" y2="478.40" stroke="#1d1a1b" stroke-width="0.9" />
<line x1="274.05" y1="477.55" x2="276.85" y2="477.55" stroke="#1d1a1b" stroke-width="0.9" />
<line x1="274.05" y1="478.40" x2="276.85" y2="478.40" stroke="#1d1a1b" stroke-width="0.9" />
<line x1="272.20" y1="487.70" x2="272.20" y2="490.30" stroke="#1d1a1b" stroke-width="1.0" />
<text transform="translate(277.20,496.30) rotate(-45)" font-size="8.7" text-anchor="end" fill="#1d1a1b" style="stroke-width:0.1px">sgCD58#4</text>
<rect x="284.90" y="402.40" width="4.9" height="85.30" fill="#cd1239"/>
<line x1="287.35" y1="400.69" x2="287.35" y2="402.40" stroke="#1d1a1b" stroke-width="0.9" />
<line x1="285.95" y1="400.69" x2="288.75" y2="400.69" stroke="#1d1a1b" stroke-width="0.9" />
<line x1="285.95" y1="402.40" x2="288.75" y2="402.40" stroke="#1d1a1b" stroke-width="0.9" />
<rect x="291.80" y="470.21" width="4.9" height="17.49" fill="#1b5a91"/>
<line x1="294.25" y1="468.51" x2="294.25" y2="470.21" stroke="#1d1a1b" stroke-width="0.9" />
<line x1="292.85" y1="468.51" x2="295.65" y2="468.51" stroke="#1d1a1b" stroke-width="0.9" />
<line x1="292.85" y1="470.21" x2="295.65" y2="470.21" stroke="#1d1a1b" stroke-width="0.9" />
<line x1="291.00" y1="487.70" x2="291.00" y2="490.30" stroke="#1d1a1b" stroke-width="1.0" />
<text transform="translate(296.00,496.30) rotate(-45)" font-size="8.7" text-anchor="end" fill="#1d1a1b" style="stroke-width:0.1px">sgCCR4</text>
<text transform="translate(8.6,436.2) rotate(-90)" font-size="8.4" text-anchor="middle" fill="#1d1a1b" textLength="133" lengthAdjust="spacingAndGlyphs">Live cell (normalized by ET ratio =0:1)</text>
<path d="M43.40,389.50 L43.40,385.50 L80.00,385.50 L80.00,389.50" fill="none" stroke="#1d1a1b" stroke-width="1.0"/>
<path d="M43.40,396.50 L43.40,392.70 L65.70,392.70 L65.70,396.50" fill="none" stroke="#1d1a1b" stroke-width="1.0"/>
<circle cx="61.10" cy="382.30" r="1.1" fill="#333" fill-opacity="0.9"/>
<circle cx="64.90" cy="382.30" r="1.1" fill="#333" fill-opacity="0.9"/>
<circle cx="54.20" cy="390.20" r="1.1" fill="#333" fill-opacity="0.9"/>
<path d="M200.40,389.50 L200.40,385.50 L237.30,385.50 L237.30,389.50" fill="none" stroke="#1d1a1b" stroke-width="1.0"/>
<path d="M200.40,396.50 L200.40,392.70 L222.40,392.70 L222.40,396.50" fill="none" stroke="#1d1a1b" stroke-width="1.0"/>
<circle cx="219.20" cy="382.30" r="1.1" fill="#333" fill-opacity="0.9"/>
<circle cx="209.50" cy="389.40" r="1.1" fill="#333" fill-opacity="0.9"/>
<circle cx="213.30" cy="389.40" r="1.1" fill="#333" fill-opacity="0.9"/>
<line x1="327.70" y1="470.80" x2="496.00" y2="470.80" stroke="#1d1a1b" stroke-width="1.1" />
<path d="M500.3,470.8 L493.3,467.4 L494.8,470.8 L493.3,474.2 Z" fill="#1d1a1b"/>
<line x1="352.30" y1="470.80" x2="352.30" y2="473.40" stroke="#1d1a1b" stroke-width="1.0" />
<line x1="407.50" y1="470.80" x2="407.50" y2="473.40" stroke="#1d1a1b" stroke-width="1.0" />
<line x1="441.50" y1="470.80" x2="441.50" y2="473.40" stroke="#1d1a1b" stroke-width="1.0" />
<line x1="466.70" y1="470.80" x2="466.70" y2="473.40" stroke="#1d1a1b" stroke-width="1.0" />
<text x="326.70" y="481.90" font-size="8.3" text-anchor="start" fill="#1d1a1b" font-weight="normal" >Day</text>
<text x="352.30" y="481.90" font-size="8.3" text-anchor="middle" fill="#1d1a1b" font-weight="normal" >–7</text>
<text x="407.50" y="481.90" font-size="8.3" text-anchor="middle" fill="#1d1a1b" font-weight="normal" >0</text>
<text x="441.50" y="481.90" font-size="8.3" text-anchor="middle" fill="#1d1a1b" font-weight="normal" >4</text>
<text x="466.70" y="481.90" font-size="8.3" text-anchor="middle" fill="#1d1a1b" font-weight="normal" >6</text>
<text x="413.70" y="495.60" font-size="9.9" text-anchor="middle" fill="#1d1a1b" textLength="70" lengthAdjust="spacingAndGlyphs" >Recipient mice: NOG</text>
<text x="351.70" y="437.00" font-size="8.3" text-anchor="middle" fill="#1d1a1b" textLength="42" lengthAdjust="spacingAndGlyphs" >ED40515(–)</text>
<text x="351.7" y="447.0" font-size="8.3" text-anchor="middle" fill="#1d1a1b">5 × 10<tspan font-size="5.2" dy="-3">6</tspan><tspan dy="3"> cells</tspan></text>
<text x="351.70" y="456.70" font-size="8.3" text-anchor="middle" fill="#1d1a1b" font-weight="normal" >s.c.</text>
<text x="407.50" y="427.20" font-size="8.3" text-anchor="middle" fill="#1d1a1b" textLength="35.2" lengthAdjust="spacingAndGlyphs" >Irradiated</text>
<text x="407.50" y="437.00" font-size="8.3" text-anchor="middle" fill="#1d1a1b" textLength="29.6" lengthAdjust="spacingAndGlyphs" >YT1-NK</text>
<text x="407.5" y="447.0" font-size="8.3" text-anchor="middle" fill="#1d1a1b">10<tspan font-size="5.2" dy="-3">7</tspan><tspan dy="3"> cells</tspan></text>
<text x="406.50" y="456.70" font-size="8.3" text-anchor="middle" fill="#1d1a1b" font-weight="normal" >s.c.</text>
<text x="445.00" y="427.20" font-size="8.3" text-anchor="middle" fill="#1d1a1b" textLength="35.2" lengthAdjust="spacingAndGlyphs" >Irradiated</text>
<text x="445.00" y="437.00" font-size="8.3" text-anchor="middle" fill="#1d1a1b" textLength="29.6" lengthAdjust="spacingAndGlyphs" >YT1-NK</text>
<text x="445" y="447.0" font-size="8.3" text-anchor="middle" fill="#1d1a1b">10<tspan font-size="5.2" dy="-3">7</tspan><tspan dy="3"> cells</tspan></text>
<text x="444.00" y="456.70" font-size="8.3" text-anchor="middle" fill="#1d1a1b" font-weight="normal" >s.c.</text>
<line x1="352.30" y1="460.00" x2="352.30" y2="464.50" stroke="#1f5483" stroke-width="1.4" />
<path d="M350.40,463.5 L354.20,463.5 L352.30,466.9 Z" fill="#1f5483"/>
<line x1="407.50" y1="460.00" x2="407.50" y2="464.50" stroke="#b8163a" stroke-width="1.4" />
<path d="M405.60,463.5 L409.40,463.5 L407.50,466.9 Z" fill="#b8163a"/>
<line x1="441.50" y1="460.00" x2="441.50" y2="464.50" stroke="#b8163a" stroke-width="1.4" />
<path d="M439.60,463.5 L443.40,463.5 L441.50,466.9 Z" fill="#b8163a"/>
<line x1="466.70" y1="460.00" x2="466.70" y2="467.00" stroke="#3fae4a" stroke-width="1.4" />
<text x="464.20" y="446.70" font-size="8.3" text-anchor="start" fill="#1d1a1b" textLength="50" lengthAdjust="spacingAndGlyphs" >Measurement</text>
<text x="464.20" y="456.50" font-size="8.3" text-anchor="start" fill="#1d1a1b" textLength="53.8" lengthAdjust="spacingAndGlyphs" >tumor volumes</text>
<text x="29.40" y="541.50" font-size="9.8" text-anchor="start" fill="#1d1a1b" textLength="16.2" lengthAdjust="spacingAndGlyphs" >NK:</text>
<text x="29.40" y="553.30" font-size="9.8" text-anchor="start" fill="#1d1a1b" textLength="30.8" lengthAdjust="spacingAndGlyphs" >Target:</text>
<text x="74.50" y="541.50" font-size="9.8" text-anchor="start" fill="#1d1a1b" font-weight="normal" >YT1</text>
<text x="74.50" y="553.30" font-size="9.8" text-anchor="start" fill="#1d1a1b" font-weight="normal" >ST1</text>
<text x="73.90" y="564.60" font-size="9.0" text-anchor="start" fill="#1d1a1b" font-weight="normal" >4hr</text>
<text x="236.00" y="541.50" font-size="9.8" text-anchor="middle" fill="#1d1a1b" font-weight="normal" >YT1</text>
<text x="236.00" y="553.30" font-size="9.8" text-anchor="middle" fill="#1d1a1b" font-weight="normal" >KK1</text>
<text x="236.00" y="565.00" font-size="9.0" text-anchor="middle" fill="#1d1a1b" font-weight="normal" >5hr</text>
<line x1="32.65" y1="567.35" x2="32.65" y2="692.97" stroke="#1d1a1b" stroke-width="1.4" />
<line x1="29.65" y1="572.00" x2="32.65" y2="572.00" stroke="#1d1a1b" stroke-width="1.0" />
<text x="26.35" y="575.20" font-size="8.4" text-anchor="end" fill="#1d1a1b" font-weight="normal" >1.2</text>
<line x1="29.65" y1="598.60" x2="32.65" y2="598.60" stroke="#1d1a1b" stroke-width="1.0" />
<text x="26.35" y="601.80" font-size="8.4" text-anchor="end" fill="#1d1a1b" font-weight="normal" >1.0</text>
<line x1="29.65" y1="625.20" x2="32.65" y2="625.20" stroke="#1d1a1b" stroke-width="1.0" />
<text x="26.35" y="628.40" font-size="8.4" text-anchor="end" fill="#1d1a1b" font-weight="normal" >0.8</text>
<line x1="29.65" y1="651.80" x2="32.65" y2="651.80" stroke="#1d1a1b" stroke-width="1.0" />
<text x="26.35" y="655.00" font-size="8.4" text-anchor="end" fill="#1d1a1b" font-weight="normal" >0.6</text>
<line x1="29.65" y1="678.40" x2="32.65" y2="678.40" stroke="#1d1a1b" stroke-width="1.0" />
<text x="26.35" y="681.60" font-size="8.4" text-anchor="end" fill="#1d1a1b" font-weight="normal" >0.4</text>
<line x1="29.65" y1="585.30" x2="32.65" y2="585.30" stroke="#1d1a1b" stroke-width="1.0" />
<line x1="29.65" y1="611.90" x2="32.65" y2="611.90" stroke="#1d1a1b" stroke-width="1.0" />
<line x1="29.65" y1="638.50" x2="32.65" y2="638.50" stroke="#1d1a1b" stroke-width="1.0" />
<line x1="29.65" y1="665.10" x2="32.65" y2="665.10" stroke="#1d1a1b" stroke-width="1.0" />
<line x1="32.05" y1="692.37" x2="131.00" y2="692.37" stroke="#1d1a1b" stroke-width="1.4" />
<line x1="50.20" y1="692.37" x2="50.20" y2="695.37" stroke="#1d1a1b" stroke-width="1.0" />
<text x="50.20" y="705.57" font-size="8.4" text-anchor="middle" fill="#1d1a1b" font-weight="normal" >0:1</text>
<line x1="75.30" y1="692.37" x2="75.30" y2="695.37" stroke="#1d1a1b" stroke-width="1.0" />
<text x="75.30" y="705.57" font-size="8.4" text-anchor="middle" fill="#1d1a1b" font-weight="normal" >0.5:1</text>
<line x1="100.40" y1="692.37" x2="100.40" y2="695.37" stroke="#1d1a1b" stroke-width="1.0" />
<text x="100.40" y="705.57" font-size="8.4" text-anchor="middle" fill="#1d1a1b" font-weight="normal" >1:1</text>
<line x1="125.50" y1="692.37" x2="125.50" y2="695.37" stroke="#1d1a1b" stroke-width="1.0" />
<text x="125.50" y="705.57" font-size="8.4" text-anchor="middle" fill="#1d1a1b" font-weight="normal" >2:1</text>
<line x1="187.50" y1="567.35" x2="187.50" y2="692.97" stroke="#1d1a1b" stroke-width="1.4" />
<line x1="184.50" y1="572.00" x2="187.50" y2="572.00" stroke="#1d1a1b" stroke-width="1.0" />
<text x="181.20" y="575.20" font-size="8.4" text-anchor="end" fill="#1d1a1b" font-weight="normal" >1.2</text>
<line x1="184.50" y1="598.60" x2="187.50" y2="598.60" stroke="#1d1a1b" stroke-width="1.0" />
<text x="181.20" y="601.80" font-size="8.4" text-anchor="end" fill="#1d1a1b" font-weight="normal" >1.0</text>
<line x1="184.50" y1="625.20" x2="187.50" y2="625.20" stroke="#1d1a1b" stroke-width="1.0" />
<text x="181.20" y="628.40" font-size="8.4" text-anchor="end" fill="#1d1a1b" font-weight="normal" >0.8</text>
<line x1="184.50" y1="651.80" x2="187.50" y2="651.80" stroke="#1d1a1b" stroke-width="1.0" />
<text x="181.20" y="655.00" font-size="8.4" text-anchor="end" fill="#1d1a1b" font-weight="normal" >0.6</text>
<line x1="184.50" y1="678.40" x2="187.50" y2="678.40" stroke="#1d1a1b" stroke-width="1.0" />
<text x="181.20" y="681.60" font-size="8.4" text-anchor="end" fill="#1d1a1b" font-weight="normal" >0.4</text>
<line x1="184.50" y1="585.30" x2="187.50" y2="585.30" stroke="#1d1a1b" stroke-width="1.0" />
<line x1="184.50" y1="611.90" x2="187.50" y2="611.90" stroke="#1d1a1b" stroke-width="1.0" />
<line x1="184.50" y1="638.50" x2="187.50" y2="638.50" stroke="#1d1a1b" stroke-width="1.0" />
<line x1="184.50" y1="665.10" x2="187.50" y2="665.10" stroke="#1d1a1b" stroke-width="1.0" />
<line x1="186.90" y1="692.37" x2="284.60" y2="692.37" stroke="#1d1a1b" stroke-width="1.4" />
<line x1="205.00" y1="692.37" x2="205.00" y2="695.37" stroke="#1d1a1b" stroke-width="1.0" />
<text x="205.00" y="705.57" font-size="8.4" text-anchor="middle" fill="#1d1a1b" font-weight="normal" >0:1</text>
<line x1="230.30" y1="692.37" x2="230.30" y2="695.37" stroke="#1d1a1b" stroke-width="1.0" />
<text x="230.30" y="705.57" font-size="8.4" text-anchor="middle" fill="#1d1a1b" font-weight="normal" >0.5:1</text>
<line x1="255.60" y1="692.37" x2="255.60" y2="695.37" stroke="#1d1a1b" stroke-width="1.0" />
<text x="255.60" y="705.57" font-size="8.4" text-anchor="middle" fill="#1d1a1b" font-weight="normal" >1:1</text>
<line x1="280.90" y1="692.37" x2="280.90" y2="695.37" stroke="#1d1a1b" stroke-width="1.0" />
<text x="280.90" y="705.57" font-size="8.4" text-anchor="middle" fill="#1d1a1b" font-weight="normal" >2:1</text>
<text x="158.80" y="719.00" font-size="10.4" text-anchor="middle" fill="#1d1a1b" textLength="24.6" lengthAdjust="spacingAndGlyphs" >ET ratio</text>
<text transform="translate(8.6,629) rotate(-90)" font-size="8.4" text-anchor="middle" fill="#1d1a1b" textLength="133" lengthAdjust="spacingAndGlyphs">Live cell (normalized by ET ratio =0:1)</text>
<polyline points="50.20,598.60 75.30,612.43 100.40,621.34 125.50,618.02" fill="none" stroke="#1f5483" stroke-width="1.9" stroke-linejoin="round"/>
<polyline points="50.20,598.60 75.30,650.74 100.40,666.96 125.50,689.57" fill="none" stroke="#4f2478" stroke-width="1.9" stroke-linejoin="round"/>
<polyline points="50.20,598.60 75.30,631.45 100.40,658.45 125.50,682.66" fill="none" stroke="#b8163a" stroke-width="1.9" stroke-linejoin="round"/>
<polyline points="50.20,598.60 75.30,639.43 100.40,666.96 125.50,685.98" fill="none" stroke="#f3a41f" stroke-width="1.9" stroke-linejoin="round"/>
<line x1="50.20" y1="592.62" x2="50.20" y2="604.59" stroke="#1d1a1b" stroke-width="1.15" />
<line x1="47.20" y1="592.62" x2="53.20" y2="592.62" stroke="#1d1a1b" stroke-width="1.15" />
<line x1="47.20" y1="604.59" x2="53.20" y2="604.59" stroke="#1d1a1b" stroke-width="1.15" />
<circle cx="50.20" cy="598.60" r="2.30" fill="#1f5483"/>
<line x1="75.30" y1="608.44" x2="75.30" y2="616.42" stroke="#1d1a1b" stroke-width="1.15" />
<line x1="72.30" y1="608.44" x2="78.30" y2="608.44" stroke="#1d1a1b" stroke-width="1.15" />
<line x1="72.30" y1="616.42" x2="78.30" y2="616.42" stroke="#1d1a1b" stroke-width="1.15" />
<circle cx="75.30" cy="612.43" r="2.30" fill="#1f5483"/>
<line x1="100.40" y1="616.69" x2="100.40" y2="626.00" stroke="#1d1a1b" stroke-width="1.15" />
<line x1="97.40" y1="616.69" x2="103.40" y2="616.69" stroke="#1d1a1b" stroke-width="1.15" />
<line x1="97.40" y1="626.00" x2="103.40" y2="626.00" stroke="#1d1a1b" stroke-width="1.15" />
<circle cx="100.40" cy="621.34" r="2.30" fill="#1f5483"/>
<line x1="125.50" y1="614.03" x2="125.50" y2="622.01" stroke="#1d1a1b" stroke-width="1.15" />
<line x1="122.50" y1="614.03" x2="128.50" y2="614.03" stroke="#1d1a1b" stroke-width="1.15" />
<line x1="122.50" y1="622.01" x2="128.50" y2="622.01" stroke="#1d1a1b" stroke-width="1.15" />
<circle cx="125.50" cy="618.02" r="2.30" fill="#1f5483"/>
<line x1="50.20" y1="594.61" x2="50.20" y2="602.59" stroke="#1d1a1b" stroke-width="1.15" />
<line x1="47.20" y1="594.61" x2="53.20" y2="594.61" stroke="#1d1a1b" stroke-width="1.15" />
<line x1="47.20" y1="602.59" x2="53.20" y2="602.59" stroke="#1d1a1b" stroke-width="1.15" />
<path d="M50.20,595.61 L52.73,598.60 L50.20,601.59 L47.67,598.60 Z" fill="#4f2478"/>
<line x1="75.30" y1="648.08" x2="75.30" y2="653.40" stroke="#1d1a1b" stroke-width="1.15" />
<line x1="72.30" y1="648.08" x2="78.30" y2="648.08" stroke="#1d1a1b" stroke-width="1.15" />
<line x1="72.30" y1="653.40" x2="78.30" y2="653.40" stroke="#1d1a1b" stroke-width="1.15" />
<path d="M75.30,647.75 L77.83,650.74 L75.30,653.73 L72.77,650.74 Z" fill="#4f2478"/>
<line x1="100.40" y1="664.30" x2="100.40" y2="669.62" stroke="#1d1a1b" stroke-width="1.15" />
<line x1="97.40" y1="664.30" x2="103.40" y2="664.30" stroke="#1d1a1b" stroke-width="1.15" />
<line x1="97.40" y1="669.62" x2="103.40" y2="669.62" stroke="#1d1a1b" stroke-width="1.15" />
<path d="M100.40,663.97 L102.93,666.96 L100.40,669.95 L97.87,666.96 Z" fill="#4f2478"/>
<line x1="125.50" y1="686.91" x2="125.50" y2="692.23" stroke="#1d1a1b" stroke-width="1.15" />
<line x1="122.50" y1="686.91" x2="128.50" y2="686.91" stroke="#1d1a1b" stroke-width="1.15" />
<line x1="122.50" y1="692.23" x2="128.50" y2="692.23" stroke="#1d1a1b" stroke-width="1.15" />
<path d="M125.50,686.58 L128.03,689.57 L125.50,692.56 L122.97,689.57 Z" fill="#4f2478"/>
<line x1="50.20" y1="595.94" x2="50.20" y2="601.26" stroke="#1d1a1b" stroke-width="1.15" />
<line x1="47.20" y1="595.94" x2="53.20" y2="595.94" stroke="#1d1a1b" stroke-width="1.15" />
<line x1="47.20" y1="601.26" x2="53.20" y2="601.26" stroke="#1d1a1b" stroke-width="1.15" />
<rect x="47.90" y="596.30" width="4.60" height="4.60" fill="#b8163a"/>
<line x1="75.30" y1="630.12" x2="75.30" y2="632.78" stroke="#1d1a1b" stroke-width="1.15" />
<line x1="72.30" y1="630.12" x2="78.30" y2="630.12" stroke="#1d1a1b" stroke-width="1.15" />
<line x1="72.30" y1="632.78" x2="78.30" y2="632.78" stroke="#1d1a1b" stroke-width="1.15" />
<rect x="73.00" y="629.15" width="4.60" height="4.60" fill="#b8163a"/>
<line x1="100.40" y1="651.80" x2="100.40" y2="665.10" stroke="#1d1a1b" stroke-width="1.15" />
<line x1="97.40" y1="651.80" x2="103.40" y2="651.80" stroke="#1d1a1b" stroke-width="1.15" />
<line x1="97.40" y1="665.10" x2="103.40" y2="665.10" stroke="#1d1a1b" stroke-width="1.15" />
<rect x="98.10" y="656.15" width="4.60" height="4.60" fill="#b8163a"/>
<line x1="125.50" y1="680.00" x2="125.50" y2="685.32" stroke="#1d1a1b" stroke-width="1.15" />
<line x1="122.50" y1="680.00" x2="128.50" y2="680.00" stroke="#1d1a1b" stroke-width="1.15" />
<line x1="122.50" y1="685.32" x2="128.50" y2="685.32" stroke="#1d1a1b" stroke-width="1.15" />
<rect x="123.20" y="680.36" width="4.60" height="4.60" fill="#b8163a"/>
<line x1="50.20" y1="593.28" x2="50.20" y2="603.92" stroke="#1d1a1b" stroke-width="1.15" />
<line x1="47.20" y1="593.28" x2="53.20" y2="593.28" stroke="#1d1a1b" stroke-width="1.15" />
<line x1="47.20" y1="603.92" x2="53.20" y2="603.92" stroke="#1d1a1b" stroke-width="1.15" />
<path d="M47.33,596.42 L53.08,596.42 L50.20,601.48 Z" fill="#f3a41f"/>
<line x1="75.30" y1="636.77" x2="75.30" y2="642.09" stroke="#1d1a1b" stroke-width="1.15" />
<line x1="72.30" y1="636.77" x2="78.30" y2="636.77" stroke="#1d1a1b" stroke-width="1.15" />
<line x1="72.30" y1="642.09" x2="78.30" y2="642.09" stroke="#1d1a1b" stroke-width="1.15" />
<path d="M72.42,637.25 L78.17,637.25 L75.30,642.31 Z" fill="#f3a41f"/>
<line x1="100.40" y1="658.98" x2="100.40" y2="674.94" stroke="#1d1a1b" stroke-width="1.15" />
<line x1="97.40" y1="658.98" x2="103.40" y2="658.98" stroke="#1d1a1b" stroke-width="1.15" />
<line x1="97.40" y1="674.94" x2="103.40" y2="674.94" stroke="#1d1a1b" stroke-width="1.15" />
<path d="M97.53,664.78 L103.28,664.78 L100.40,669.84 Z" fill="#f3a41f"/>
<line x1="125.50" y1="683.32" x2="125.50" y2="688.64" stroke="#1d1a1b" stroke-width="1.15" />
<line x1="122.50" y1="683.32" x2="128.50" y2="683.32" stroke="#1d1a1b" stroke-width="1.15" />
<line x1="122.50" y1="688.64" x2="128.50" y2="688.64" stroke="#1d1a1b" stroke-width="1.15" />
<path d="M122.62,683.80 L128.38,683.80 L125.50,688.86 Z" fill="#f3a41f"/>
<circle cx="71.50" cy="601.30" r="1.1" fill="#4a7cae" fill-opacity="0.9"/>
<circle cx="75.30" cy="601.30" r="1.1" fill="#4a7cae" fill-opacity="0.9"/>
<circle cx="79.10" cy="601.30" r="1.1" fill="#4a7cae" fill-opacity="0.9"/>
<circle cx="96.60" cy="610.00" r="1.1" fill="#4a7cae" fill-opacity="0.9"/>
<circle cx="100.40" cy="610.00" r="1.1" fill="#4a7cae" fill-opacity="0.9"/>
<circle cx="104.20" cy="610.00" r="1.1" fill="#4a7cae" fill-opacity="0.9"/>
<circle cx="121.70" cy="604.80" r="1.1" fill="#4a7cae" fill-opacity="0.9"/>
<circle cx="125.50" cy="604.80" r="1.1" fill="#4a7cae" fill-opacity="0.9"/>
<circle cx="129.30" cy="604.80" r="1.1" fill="#4a7cae" fill-opacity="0.9"/>
<polyline points="205.00,598.60 230.30,608.31 255.60,614.56 280.90,622.01" fill="none" stroke="#1f5483" stroke-width="1.9" stroke-linejoin="round"/>
<polyline points="205.00,598.60 230.30,639.43 255.60,654.99 280.90,669.89" fill="none" stroke="#f3a41f" stroke-width="1.9" stroke-linejoin="round"/>
<polyline points="205.00,598.60 230.30,649.81 255.60,673.35 280.90,679.20" fill="none" stroke="#b8163a" stroke-width="1.9" stroke-linejoin="round"/>
<polyline points="205.00,598.60 230.30,646.35 255.60,662.57 280.90,679.20" fill="none" stroke="#4f2478" stroke-width="1.9" stroke-linejoin="round"/>
<line x1="205.00" y1="591.95" x2="205.00" y2="605.25" stroke="#1d1a1b" stroke-width="1.15" />
<line x1="202.00" y1="591.95" x2="208.00" y2="591.95" stroke="#1d1a1b" stroke-width="1.15" />
<line x1="202.00" y1="605.25" x2="208.00" y2="605.25" stroke="#1d1a1b" stroke-width="1.15" />
<circle cx="205.00" cy="598.60" r="2.30" fill="#1f5483"/>
<line x1="230.30" y1="604.98" x2="230.30" y2="611.63" stroke="#1d1a1b" stroke-width="1.15" />
<line x1="227.30" y1="604.98" x2="233.30" y2="604.98" stroke="#1d1a1b" stroke-width="1.15" />
<line x1="227.30" y1="611.63" x2="233.30" y2="611.63" stroke="#1d1a1b" stroke-width="1.15" />
<circle cx="230.30" cy="608.31" r="2.30" fill="#1f5483"/>
<line x1="255.60" y1="613.23" x2="255.60" y2="615.89" stroke="#1d1a1b" stroke-width="1.15" />
<line x1="252.60" y1="613.23" x2="258.60" y2="613.23" stroke="#1d1a1b" stroke-width="1.15" />
<line x1="252.60" y1="615.89" x2="258.60" y2="615.89" stroke="#1d1a1b" stroke-width="1.15" />
<circle cx="255.60" cy="614.56" r="2.30" fill="#1f5483"/>
<line x1="280.90" y1="616.02" x2="280.90" y2="627.99" stroke="#1d1a1b" stroke-width="1.15" />
<line x1="277.90" y1="616.02" x2="283.90" y2="616.02" stroke="#1d1a1b" stroke-width="1.15" />
<line x1="277.90" y1="627.99" x2="283.90" y2="627.99" stroke="#1d1a1b" stroke-width="1.15" />
<circle cx="280.90" cy="622.01" r="2.30" fill="#1f5483"/>
<line x1="205.00" y1="594.61" x2="205.00" y2="602.59" stroke="#1d1a1b" stroke-width="1.15" />
<line x1="202.00" y1="594.61" x2="208.00" y2="594.61" stroke="#1d1a1b" stroke-width="1.15" />
<line x1="202.00" y1="602.59" x2="208.00" y2="602.59" stroke="#1d1a1b" stroke-width="1.15" />
<path d="M202.12,596.42 L207.88,596.42 L205.00,601.48 Z" fill="#f3a41f"/>
<line x1="230.30" y1="638.10" x2="230.30" y2="640.76" stroke="#1d1a1b" stroke-width="1.15" />
<line x1="227.30" y1="638.10" x2="233.30" y2="638.10" stroke="#1d1a1b" stroke-width="1.15" />
<line x1="227.30" y1="640.76" x2="233.30" y2="640.76" stroke="#1d1a1b" stroke-width="1.15" />
<path d="M227.43,637.25 L233.18,637.25 L230.30,642.31 Z" fill="#f3a41f"/>
<line x1="255.60" y1="649.67" x2="255.60" y2="660.31" stroke="#1d1a1b" stroke-width="1.15" />
<line x1="252.60" y1="649.67" x2="258.60" y2="649.67" stroke="#1d1a1b" stroke-width="1.15" />
<line x1="252.60" y1="660.31" x2="258.60" y2="660.31" stroke="#1d1a1b" stroke-width="1.15" />
<path d="M252.72,652.81 L258.48,652.81 L255.60,657.87 Z" fill="#f3a41f"/>
<line x1="280.90" y1="668.56" x2="280.90" y2="671.22" stroke="#1d1a1b" stroke-width="1.15" />
<line x1="277.90" y1="668.56" x2="283.90" y2="668.56" stroke="#1d1a1b" stroke-width="1.15" />
<line x1="277.90" y1="671.22" x2="283.90" y2="671.22" stroke="#1d1a1b" stroke-width="1.15" />
<path d="M278.02,667.70 L283.77,667.70 L280.90,672.76 Z" fill="#f3a41f"/>
<line x1="205.00" y1="595.94" x2="205.00" y2="601.26" stroke="#1d1a1b" stroke-width="1.15" />
<line x1="202.00" y1="595.94" x2="208.00" y2="595.94" stroke="#1d1a1b" stroke-width="1.15" />
<line x1="202.00" y1="601.26" x2="208.00" y2="601.26" stroke="#1d1a1b" stroke-width="1.15" />
<rect x="202.70" y="596.30" width="4.60" height="4.60" fill="#b8163a"/>
<line x1="230.30" y1="648.48" x2="230.30" y2="651.13" stroke="#1d1a1b" stroke-width="1.15" />
<line x1="227.30" y1="648.48" x2="233.30" y2="648.48" stroke="#1d1a1b" stroke-width="1.15" />
<line x1="227.30" y1="651.13" x2="233.30" y2="651.13" stroke="#1d1a1b" stroke-width="1.15" />
<rect x="228.00" y="647.51" width="4.60" height="4.60" fill="#b8163a"/>
<line x1="255.60" y1="669.36" x2="255.60" y2="677.34" stroke="#1d1a1b" stroke-width="1.15" />
<line x1="252.60" y1="669.36" x2="258.60" y2="669.36" stroke="#1d1a1b" stroke-width="1.15" />
<line x1="252.60" y1="677.34" x2="258.60" y2="677.34" stroke="#1d1a1b" stroke-width="1.15" />
<rect x="253.30" y="671.05" width="4.60" height="4.60" fill="#b8163a"/>
<line x1="280.90" y1="676.54" x2="280.90" y2="681.86" stroke="#1d1a1b" stroke-width="1.15" />
<line x1="277.90" y1="676.54" x2="283.90" y2="676.54" stroke="#1d1a1b" stroke-width="1.15" />
<line x1="277.90" y1="681.86" x2="283.90" y2="681.86" stroke="#1d1a1b" stroke-width="1.15" />
<rect x="278.60" y="676.90" width="4.60" height="4.60" fill="#b8163a"/>
<line x1="205.00" y1="594.61" x2="205.00" y2="602.59" stroke="#1d1a1b" stroke-width="1.15" />
<line x1="202.00" y1="594.61" x2="208.00" y2="594.61" stroke="#1d1a1b" stroke-width="1.15" />
<line x1="202.00" y1="602.59" x2="208.00" y2="602.59" stroke="#1d1a1b" stroke-width="1.15" />
<path d="M205.00,595.61 L207.53,598.60 L205.00,601.59 L202.47,598.60 Z" fill="#4f2478"/>
<line x1="230.30" y1="643.69" x2="230.30" y2="649.01" stroke="#1d1a1b" stroke-width="1.15" />
<line x1="227.30" y1="643.69" x2="233.30" y2="643.69" stroke="#1d1a1b" stroke-width="1.15" />
<line x1="227.30" y1="649.01" x2="233.30" y2="649.01" stroke="#1d1a1b" stroke-width="1.15" />
<path d="M230.30,643.36 L232.83,646.35 L230.30,649.34 L227.77,646.35 Z" fill="#4f2478"/>
<line x1="255.60" y1="659.91" x2="255.60" y2="665.23" stroke="#1d1a1b" stroke-width="1.15" />
<line x1="252.60" y1="659.91" x2="258.60" y2="659.91" stroke="#1d1a1b" stroke-width="1.15" />
<line x1="252.60" y1="665.23" x2="258.60" y2="665.23" stroke="#1d1a1b" stroke-width="1.15" />
<path d="M255.60,659.58 L258.13,662.57 L255.60,665.56 L253.07,662.57 Z" fill="#4f2478"/>
<line x1="280.90" y1="676.54" x2="280.90" y2="681.86" stroke="#1d1a1b" stroke-width="1.15" />
<line x1="277.90" y1="676.54" x2="283.90" y2="676.54" stroke="#1d1a1b" stroke-width="1.15" />
<line x1="277.90" y1="681.86" x2="283.90" y2="681.86" stroke="#1d1a1b" stroke-width="1.15" />
<path d="M280.90,676.21 L283.43,679.20 L280.90,682.19 L278.37,679.20 Z" fill="#4f2478"/>
<circle cx="226.50" cy="596.80" r="1.1" fill="#4a7cae" fill-opacity="0.9"/>
<circle cx="230.30" cy="596.80" r="1.1" fill="#4a7cae" fill-opacity="0.9"/>
<circle cx="234.10" cy="596.80" r="1.1" fill="#4a7cae" fill-opacity="0.9"/>
<circle cx="251.80" cy="604.80" r="1.1" fill="#4a7cae" fill-opacity="0.9"/>
<circle cx="255.60" cy="604.80" r="1.1" fill="#4a7cae" fill-opacity="0.9"/>
<circle cx="259.40" cy="604.80" r="1.1" fill="#4a7cae" fill-opacity="0.9"/>
<circle cx="279.00" cy="608.30" r="1.1" fill="#4a7cae" fill-opacity="0.9"/>
<circle cx="282.80" cy="608.30" r="1.1" fill="#4a7cae" fill-opacity="0.9"/>
<line x1="291.50" y1="571.50" x2="303.10" y2="571.50" stroke="#4f2478" stroke-width="1.5" />
<path d="M297.30,569.03 L299.39,571.50 L297.30,573.97 L295.21,571.50 Z" fill="#4f2478"/>
<text x="306.80" y="574.10" font-size="7.4" text-anchor="start" fill="#1d1a1b" font-weight="normal" >sgAAVS1</text>
<line x1="291.50" y1="584.80" x2="303.10" y2="584.80" stroke="#f3a41f" stroke-width="1.5" />
<path d="M294.93,583.00 L299.68,583.00 L297.30,587.17 Z" fill="#f3a41f"/>
<text x="306.80" y="587.40" font-size="7.4" text-anchor="start" fill="#1d1a1b" font-weight="normal" >sgCD48#2</text>
<line x1="291.50" y1="598.60" x2="303.10" y2="598.60" stroke="#b8163a" stroke-width="1.5" />
<rect x="295.40" y="596.70" width="3.80" height="3.80" fill="#b8163a"/>
<text x="306.80" y="601.20" font-size="7.4" text-anchor="start" fill="#1d1a1b" font-weight="normal" >sgCD48#3</text>
<line x1="291.50" y1="612.50" x2="303.10" y2="612.50" stroke="#1f5483" stroke-width="1.5" />
<circle cx="297.30" cy="612.50" r="1.90" fill="#1f5483"/>
<text x="306.80" y="615.10" font-size="7.4" text-anchor="start" fill="#1d1a1b" font-weight="normal" >sgCCR4</text>
<text x="469.80" y="556.40" font-size="9" text-anchor="middle" fill="#1d1a1b" font-weight="normal" >ED40515(–)</text>
<line x1="420.40" y1="569.17" x2="420.40" y2="692.60" stroke="#1d1a1b" stroke-width="1.4" />
<line x1="417.40" y1="692.00" x2="420.40" y2="692.00" stroke="#1d1a1b" stroke-width="1.0" />
<text x="413.40" y="695.20" font-size="8.4" text-anchor="end" fill="#1d1a1b" font-weight="normal" >0</text>
<line x1="417.40" y1="668.15" x2="420.40" y2="668.15" stroke="#1d1a1b" stroke-width="1.0" />
<text x="413.40" y="671.35" font-size="8.4" text-anchor="end" fill="#1d1a1b" font-weight="normal" >100</text>
<line x1="417.40" y1="644.30" x2="420.40" y2="644.30" stroke="#1d1a1b" stroke-width="1.0" />
<text x="413.40" y="647.50" font-size="8.4" text-anchor="end" fill="#1d1a1b" font-weight="normal" >200</text>
<line x1="417.40" y1="620.45" x2="420.40" y2="620.45" stroke="#1d1a1b" stroke-width="1.0" />
<text x="413.40" y="623.65" font-size="8.4" text-anchor="end" fill="#1d1a1b" font-weight="normal" >300</text>
<line x1="417.40" y1="596.60" x2="420.40" y2="596.60" stroke="#1d1a1b" stroke-width="1.0" />
<text x="413.40" y="599.80" font-size="8.4" text-anchor="end" fill="#1d1a1b" font-weight="normal" >400</text>
<line x1="417.40" y1="572.75" x2="420.40" y2="572.75" stroke="#1d1a1b" stroke-width="1.0" />
<text x="413.40" y="575.95" font-size="8.4" text-anchor="end" fill="#1d1a1b" font-weight="normal" >500</text>
<line x1="419.80" y1="692.00" x2="518.00" y2="692.00" stroke="#1d1a1b" stroke-width="1.4" />
<text transform="translate(393.2,630) rotate(-90)" font-size="9" text-anchor="middle" fill="#1d1a1b" textLength="73" lengthAdjust="spacingAndGlyphs">Tumor volume (mm<tspan font-size="5.8" dy="-3">3</tspan><tspan dy="3">)</tspan></text>
<rect x="428.8" y="603.83" width="14.40" height="88.17" fill="#a88cc0"/>
<rect x="453.5" y="648.40" width="13.00" height="43.60" fill="#a4dba3"/>
<rect x="476.2" y="618.35" width="13.80" height="73.65" fill="#e98c9d"/>
<rect x="500.4" y="605.21" width="13.10" height="86.79" fill="#80a5c8"/>
<line x1="435.80" y1="596.00" x2="435.80" y2="612.00" stroke="#1d1a1b" stroke-width="1.3" />
<line x1="433.20" y1="596.00" x2="438.40" y2="596.00" stroke="#1d1a1b" stroke-width="1.3" />
<line x1="433.20" y1="612.00" x2="438.40" y2="612.00" stroke="#1d1a1b" stroke-width="1.3" />
<line x1="459.30" y1="638.90" x2="459.30" y2="655.00" stroke="#1d1a1b" stroke-width="1.3" />
<line x1="456.70" y1="638.90" x2="461.90" y2="638.90" stroke="#1d1a1b" stroke-width="1.3" />
<line x1="456.70" y1="655.00" x2="461.90" y2="655.00" stroke="#1d1a1b" stroke-width="1.3" />
<line x1="483.00" y1="603.50" x2="483.00" y2="632.00" stroke="#1d1a1b" stroke-width="1.3" />
<line x1="480.40" y1="603.50" x2="485.60" y2="603.50" stroke="#1d1a1b" stroke-width="1.3" />
<line x1="480.40" y1="632.00" x2="485.60" y2="632.00" stroke="#1d1a1b" stroke-width="1.3" />
<line x1="506.60" y1="599.00" x2="506.60" y2="615.80" stroke="#1d1a1b" stroke-width="1.3" />
<line x1="504.00" y1="599.00" x2="509.20" y2="599.00" stroke="#1d1a1b" stroke-width="1.3" />
<line x1="504.00" y1="615.80" x2="509.20" y2="615.80" stroke="#1d1a1b" stroke-width="1.3" />
<circle cx="435.8" cy="581.6" r="2.45" fill="#4b2a6b"/>
<circle cx="435.8" cy="600.8" r="2.45" fill="#4b2a6b"/>
<circle cx="430" cy="604.7" r="2.45" fill="#4b2a6b"/>
<circle cx="441.5" cy="604.7" r="2.45" fill="#4b2a6b"/>
<circle cx="435.8" cy="617.6" r="2.45" fill="#4b2a6b"/>
<circle cx="459.3" cy="622.7" r="2.45" fill="#3fae4a"/>
<circle cx="459.3" cy="635.8" r="2.45" fill="#3fae4a"/>
<circle cx="453.5" cy="655" r="2.45" fill="#3fae4a"/>
<circle cx="465" cy="658" r="2.45" fill="#3fae4a"/>
<circle cx="453.5" cy="661.2" r="2.45" fill="#3fae4a"/>
<circle cx="483" cy="584.6" r="2.45" fill="#c8102e"/>
<circle cx="483" cy="606.5" r="2.45" fill="#c8102e"/>
<circle cx="483" cy="632" r="2.45" fill="#c8102e"/>
<circle cx="483" cy="644.6" r="2.45" fill="#c8102e"/>
<circle cx="506.6" cy="585" r="2.45" fill="#1d5b8f"/>
<circle cx="506.6" cy="593.4" r="2.45" fill="#1d5b8f"/>
<circle cx="506.6" cy="599.2" r="2.45" fill="#1d5b8f"/>
<circle cx="506.6" cy="637.2" r="2.45" fill="#1d5b8f"/>
<path d="M435.80,572.60 L435.80,568.00 L452.60,568.00 L452.60,572.60" fill="none" stroke="#1d1a1b" stroke-width="1.0"/>
<path d="M460.50,572.60 L460.50,568.00 L506.20,568.00 L506.20,572.60" fill="none" stroke="#1d1a1b" stroke-width="1.0"/>
<circle cx="442.10" cy="564.50" r="1.1" fill="#333" fill-opacity="0.9"/>
<circle cx="445.90" cy="564.50" r="1.1" fill="#333" fill-opacity="0.9"/>
<circle cx="483.00" cy="564.50" r="1.1" fill="#333" fill-opacity="0.9"/>
<text x="414.50" y="702.50" font-size="8.2" text-anchor="end" fill="#1d1a1b" font-weight="normal" >YT1</text>
<text x="435.90" y="702.30" font-size="7.2" text-anchor="middle" fill="#1d1a1b" font-weight="normal" >–</text>
<text x="459.40" y="702.30" font-size="7.2" text-anchor="middle" fill="#1d1a1b" font-weight="normal" >+</text>
<text x="483.00" y="702.30" font-size="7.2" text-anchor="middle" fill="#1d1a1b" font-weight="normal" >–</text>
<text x="506.00" y="702.30" font-size="7.2" text-anchor="middle" fill="#1d1a1b" font-weight="normal" >+</text>
<text x="397.50" y="716.30" font-size="8.0" text-anchor="middle" fill="#1d1a1b" font-weight="normal" >sgRNA</text>
<line x1="428.00" y1="707.00" x2="466.30" y2="707.00" stroke="#1d1a1b" stroke-width="1.0" />
<line x1="475.00" y1="707.00" x2="514.80" y2="707.00" stroke="#1d1a1b" stroke-width="1.0" />
<text x="447.30" y="716.30" font-size="8.4" text-anchor="middle" fill="#1d1a1b" font-weight="normal" >AAVS1</text>
<text x="495.00" y="716.30" font-size="8.4" text-anchor="middle" fill="#1d1a1b" font-weight="normal" >CD48#3</text>
</svg></body></html>
